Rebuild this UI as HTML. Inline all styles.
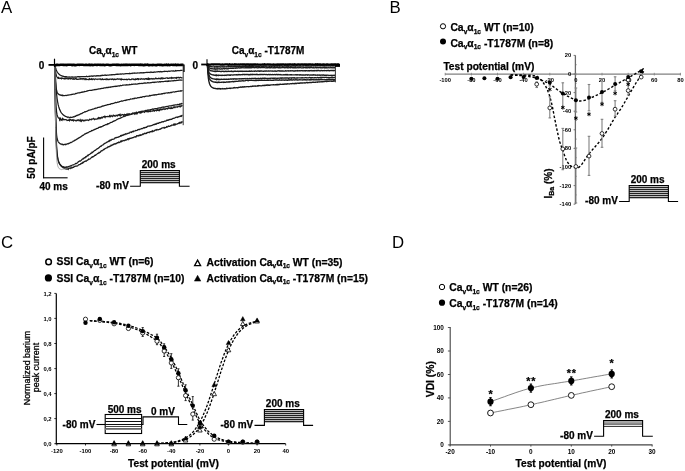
<!DOCTYPE html>
<html><head><meta charset="utf-8"><style>
html,body{margin:0;padding:0;background:#fff;}
svg{display:block;font-family:"Liberation Sans",sans-serif;will-change:transform;}
</style></head><body>
<svg width="685" height="471" viewBox="0 0 685 471">
<rect width="685" height="471" fill="#fff"/>
<text x="1.1" y="12.5" font-size="16.8"  text-anchor="start" >A</text>
<text x="89.0" y="53.9" font-size="10" font-weight="bold" stroke="#000" stroke-width="0.25" text-anchor="start" >Ca<tspan font-size="6.6" dy="2.6">v</tspan><tspan dy="-2.6">α</tspan><tspan font-size="6.6" dy="2.6">1c</tspan><tspan dy="-2.6"> </tspan>WT</text>
<text x="231.7" y="53.9" font-size="10" font-weight="bold" stroke="#000" stroke-width="0.25" text-anchor="start" >Ca<tspan font-size="6.6" dy="2.6">v</tspan><tspan dy="-2.6">α</tspan><tspan font-size="6.6" dy="2.6">1c</tspan><tspan dy="-2.6"> </tspan>-T1787M</text>
<text x="44.2" y="69.1" font-size="10" font-weight="bold" stroke="#000" stroke-width="0.25" text-anchor="end" >0</text>
<text x="198.0" y="68.9" font-size="10" font-weight="bold" stroke="#000" stroke-width="0.25" text-anchor="end" >0</text>
<path d="M54.9,64.9 L55.1,65.9 L55.4,67.0 L55.6,67.9 L55.9,68.8 L56.1,69.5 L56.4,70.2 L56.6,70.7 L56.9,71.3 L57.1,71.7 L57.4,72.2 L57.6,72.5 L57.9,72.9 L58.1,73.2 L58.4,73.5 L58.6,73.8 L58.9,74.0 L59.1,74.3 L59.4,74.5 L59.6,74.7 L59.9,74.9 L60.1,75.0 L60.4,75.2 L60.6,75.3 L60.9,75.5 L61.1,75.6 L61.4,75.7 L61.6,75.8 L61.9,75.9 L62.1,76.0 L62.4,76.1 L62.6,76.2 L62.9,76.3 L63.1,76.2 L63.4,76.4 L63.6,76.4 L63.9,76.6 L64.1,76.6 L64.3,76.5 L64.6,76.5 L64.8,76.8 L65.1,76.7 L65.3,76.7 L65.6,77.0 L65.8,76.8 L66.1,77.0 L66.3,76.9 L66.6,77.0 L66.8,76.8 L67.1,77.0 L67.6,77.1 L68.1,77.0 L68.6,77.1 L69.1,77.1 L69.6,76.9 L70.1,77.2 L70.6,77.1 L71.1,77.0 L71.6,76.9 L72.1,77.2 L72.6,77.0 L73.1,77.1 L73.6,77.2 L74.1,77.1 L74.6,77.1 L75.1,76.9 L75.6,77.1 L76.1,76.9 L76.6,77.1 L77.1,77.0 L77.6,76.7 L78.1,76.7 L78.6,76.7 L79.1,77.0 L79.6,76.7 L80.1,76.8 L80.6,76.6 L81.1,76.7 L81.6,76.6 L82.1,76.6 L82.6,76.6 L83.1,76.6 L83.6,76.7 L84.1,76.6 L84.6,76.7 L85.1,76.6 L85.6,76.6 L86.1,76.5 L86.6,76.2 L87.1,76.5 L87.6,76.5 L88.1,76.5 L88.6,76.3 L89.1,76.3 L89.6,76.1 L90.1,76.3 L90.6,76.2 L91.1,76.1 L91.6,75.9 L92.1,76.2 L92.6,76.3 L93.1,75.9 L93.6,76.1 L94.1,75.9 L94.6,75.8 L95.1,75.8 L95.6,76.0 L96.1,76.0 L96.6,75.6 L97.1,75.8 L97.6,75.6 L98.1,75.8 L98.6,75.6 L99.1,75.8 L99.6,75.8 L100.1,75.6 L100.6,75.8 L101.1,75.4 L101.6,75.3 L102.1,75.5 L102.6,75.2 L103.1,75.3 L103.6,75.3 L104.1,75.3 L104.6,75.1 L105.1,75.0 L105.6,75.3 L106.1,75.1 L106.6,75.3 L107.1,75.2 L107.6,75.0 L108.1,75.0 L108.6,75.0 L109.1,75.0 L109.6,74.9 L110.1,74.9 L110.6,74.9 L111.1,75.0 L111.6,74.7 L112.1,74.7 L112.6,74.8 L113.1,74.5 L113.6,74.5 L114.1,74.8 L114.6,74.5 L115.1,74.5 L115.6,74.3 L116.1,74.4 L116.6,74.4 L117.1,74.1 L117.6,74.4 L118.1,74.3 L118.6,74.1 L119.1,74.2 L119.6,74.1 L120.1,74.2 L120.6,74.0 L121.1,74.1 L121.6,74.1 L122.1,73.8 L122.6,73.8 L123.1,74.0 L123.6,74.1 L124.1,73.8 L124.6,73.8 L125.1,73.8 L125.6,73.7 L126.1,73.7 L126.6,73.6 L127.1,73.6 L127.6,73.7 L128.1,73.5 L128.6,73.5 L129.1,73.7 L129.6,73.3 L130.1,73.5 L130.6,73.5 L131.1,73.3 L131.6,73.3 L132.1,73.5 L132.6,73.2 L133.1,73.2 L133.6,73.2 L134.1,73.3 L134.6,73.0 L135.1,73.1 L135.6,73.1 L136.1,73.2 L136.6,73.1 L137.1,73.2 L137.6,72.9 L138.1,72.9 L138.6,73.0 L139.1,73.1 L139.6,72.9 L140.1,72.8 L140.6,72.7 L141.1,72.8 L141.6,72.7 L142.1,72.9 L142.6,72.9 L143.1,72.6 L143.6,72.6 L144.1,72.8 L144.6,72.7 L145.1,72.7 L145.6,72.5 L146.1,72.4 L146.6,72.4 L147.1,72.6 L147.6,72.3 L148.1,72.3 L148.6,72.3 L149.1,72.3 L149.6,72.3 L150.1,72.5 L150.6,72.1 L151.1,72.0 L151.6,72.4 L152.1,72.3 L152.6,72.3 L153.1,72.1 L153.6,72.3 L154.1,72.2 L154.6,71.9 L155.1,72.1 L155.6,72.1 L156.1,72.0 L156.6,71.9 L157.1,71.8 L157.6,71.8 L158.1,71.7 L158.6,71.6 L159.1,71.8 L159.6,71.7 L160.1,71.8 L160.6,71.5 L161.1,71.8 L161.6,71.7 L162.1,71.8 L162.6,71.7 L163.1,71.7 L163.6,71.5 L164.1,71.3 L164.6,71.6 L165.1,71.3 L165.6,71.3 L166.1,71.4 L166.6,71.4 L167.1,71.3 L167.6,71.5 L168.1,71.3 L168.6,71.2 L169.1,71.1 L169.6,71.3 L170.1,71.1 L170.6,71.2 L171.1,71.0 L171.6,70.9 L172.1,71.0 L172.6,71.1 L173.1,70.8 L173.6,71.1 L174.1,71.1 L174.6,71.0 L175.1,71.0 L175.6,70.6 L176.1,70.9 L176.6,70.9 L177.1,70.6 L177.6,70.6 L178.1,70.6 L178.6,70.7 L179.1,70.6 L179.6,70.6 L180.1,70.7 L180.6,70.3 L181.1,70.3 L181.6,70.3 L182.1,70.3 L182.6,70.3" stroke="#1c1c1c" stroke-width="1.25" fill="none" />
<path d="M54.9,64.9 L55.1,67.7 L55.4,70.3 L55.6,72.2 L55.9,73.7 L56.1,74.8 L56.4,75.6 L56.6,76.2 L56.9,76.7 L57.1,77.1 L57.4,77.4 L57.6,77.6 L57.9,77.7 L58.1,78.4 L58.4,78.3 L58.6,77.7 L58.9,78.1 L59.1,78.0 L59.4,78.1 L59.6,78.1 L59.9,78.5 L60.1,78.4 L60.4,78.2 L60.6,78.1 L60.9,78.2 L61.1,78.0 L61.4,78.5 L61.6,78.7 L61.9,78.3 L62.1,78.1 L62.6,78.2 L63.1,78.4 L63.6,78.6 L64.1,78.8 L64.6,78.4 L65.1,78.9 L65.6,78.7 L66.1,78.5 L66.6,78.5 L67.1,78.6 L67.6,78.8 L68.1,78.6 L68.6,78.9 L69.1,78.6 L69.6,78.4 L70.1,78.7 L70.6,78.9 L71.1,78.3 L71.6,78.7 L72.1,78.7 L72.6,79.2 L73.1,79.2 L73.6,78.7 L74.1,79.2 L74.6,79.1 L75.1,78.6 L75.6,78.8 L76.1,78.5 L76.6,79.2 L77.1,79.1 L77.6,79.3 L78.1,79.3 L78.6,79.1 L79.1,79.2 L79.6,79.1 L80.1,78.6 L80.6,79.1 L81.1,78.5 L81.6,78.7 L82.1,79.3 L82.6,78.6 L83.1,78.7 L83.6,78.7 L84.1,79.5 L84.6,78.8 L85.1,78.7 L85.6,79.5 L86.1,78.8 L86.6,79.5 L87.1,79.3 L87.6,79.5 L88.1,79.6 L88.6,79.3 L89.1,79.5 L89.6,78.7 L90.1,79.5 L90.6,79.2 L91.1,79.4 L91.6,78.8 L92.1,79.5 L92.6,79.6 L93.1,78.8 L93.6,79.0 L94.1,79.3 L94.6,79.6 L95.1,79.0 L95.6,78.9 L96.1,79.0 L96.6,79.3 L97.1,79.5 L97.6,79.1 L98.1,79.1 L98.6,79.1 L99.1,79.1 L99.6,79.2 L100.1,78.8 L100.6,79.2 L101.1,79.7 L101.6,79.2 L102.1,79.5 L102.6,78.9 L103.1,79.4 L103.6,79.5 L104.1,79.4 L104.6,79.3 L105.1,79.2 L105.6,79.4 L106.1,79.7 L106.6,78.9 L107.1,78.9 L107.6,79.5 L108.1,79.7 L108.6,79.3 L109.1,79.2 L109.6,79.5 L110.1,79.0 L110.6,79.0 L111.1,79.0 L111.6,79.4 L112.1,79.1 L112.6,79.0 L113.1,79.5 L113.6,79.7 L114.1,79.1 L114.6,79.5 L115.1,79.2 L115.6,79.6 L116.1,79.4 L116.6,79.1 L117.1,79.0 L117.6,78.8 L118.1,79.3 L118.6,79.2 L119.1,79.0 L119.6,79.2 L120.1,79.1 L120.6,79.6 L121.1,78.9 L121.6,79.8 L122.1,79.3 L122.6,79.4 L123.1,79.3 L123.6,79.6 L124.1,79.6 L124.6,79.4 L125.1,79.3 L125.6,79.5 L126.1,79.7 L126.6,79.2 L127.1,79.5 L127.6,79.8 L128.1,79.3 L128.6,79.0 L129.1,79.0 L129.6,79.5 L130.1,79.5 L130.6,79.7 L131.1,79.6 L131.6,79.0 L132.1,78.9 L132.6,79.0 L133.1,78.9 L133.6,79.4 L134.1,79.6 L134.6,79.6 L135.1,79.0 L135.6,79.6 L136.1,79.0 L136.6,79.1 L137.1,79.4 L137.6,78.7 L138.1,78.7 L138.6,79.5 L139.1,78.9 L139.6,79.0 L140.1,79.2 L140.6,79.3 L141.1,78.6 L141.6,78.9 L142.1,79.0 L142.6,79.0 L143.1,78.7 L143.6,79.1 L144.1,79.4 L144.6,78.9 L145.1,79.0 L145.6,78.6 L146.1,78.7 L146.6,79.1 L147.1,78.5 L147.6,79.3 L148.1,79.3 L148.6,78.4 L149.1,79.3 L149.6,78.7 L150.1,79.1 L150.6,79.0 L151.1,78.6 L151.6,78.9 L152.1,78.9 L152.6,79.0 L153.1,78.5 L153.6,78.9 L154.1,79.1 L154.6,78.8 L155.1,78.7 L155.6,78.2 L156.1,78.6 L156.6,78.4 L157.1,78.8 L157.6,78.7 L158.1,78.6 L158.6,78.2 L159.1,78.6 L159.6,78.6 L160.1,78.1 L160.6,78.8 L161.1,78.5 L161.6,78.0 L162.1,78.8 L162.6,78.0 L163.1,78.1 L163.6,78.5 L164.1,78.4 L164.6,78.3 L165.1,78.4 L165.6,78.2 L166.1,78.0 L166.6,77.9 L167.1,77.7 L167.6,78.4 L168.1,78.4 L168.6,78.1 L169.1,78.3 L169.6,77.9 L170.1,77.8 L170.6,77.9 L171.1,78.4 L171.6,77.5 L172.1,78.0 L172.6,77.7 L173.1,78.2 L173.6,77.8 L174.1,77.7 L174.6,77.8 L175.1,77.9 L175.6,78.1 L176.1,77.7 L176.6,78.2 L177.1,77.4 L177.6,77.5 L178.1,77.4 L178.6,77.4 L179.1,78.0 L179.6,77.9 L180.1,77.4 L180.6,77.4 L181.1,77.6 L181.6,77.9 L182.1,77.9 L182.6,77.9" stroke="#1c1c1c" stroke-width="1.25" fill="none" />
<path d="M54.9,64.9 L55.1,71.5 L55.4,77.6 L55.6,82.0 L55.9,85.2 L56.1,87.5 L56.4,89.2 L56.6,90.5 L56.9,91.4 L57.1,92.2 L57.4,92.7 L57.6,93.2 L57.9,93.5 L58.1,93.8 L58.4,94.1 L58.6,94.3 L58.9,94.4 L59.1,94.6 L59.4,94.7 L59.6,94.8 L59.9,94.9 L60.1,95.0 L60.4,94.9 L60.6,95.1 L60.9,95.1 L61.1,95.3 L61.4,95.3 L61.6,95.2 L61.9,95.3 L62.1,95.5 L62.4,95.2 L62.6,95.6 L62.9,95.6 L63.1,95.6 L63.4,95.4 L63.6,95.5 L63.9,95.5 L64.1,95.5 L64.6,95.6 L65.1,95.5 L65.6,95.3 L66.1,95.5 L66.6,95.3 L67.1,95.3 L67.6,95.2 L68.1,94.9 L68.6,95.1 L69.1,95.0 L69.6,94.8 L70.1,94.8 L70.6,94.7 L71.1,94.5 L71.6,94.5 L72.1,94.2 L72.6,94.3 L73.1,94.2 L73.6,94.0 L74.1,94.0 L74.6,94.0 L75.1,93.9 L75.6,93.5 L76.1,93.6 L76.6,93.5 L77.1,93.1 L77.6,93.1 L78.1,92.9 L78.6,92.8 L79.1,92.8 L79.6,92.9 L80.1,92.5 L80.6,92.6 L81.1,92.4 L81.6,92.1 L82.1,92.3 L82.6,92.0 L83.1,92.1 L83.6,91.9 L84.1,91.8 L84.6,91.5 L85.1,91.6 L85.6,91.5 L86.1,91.4 L86.6,91.1 L87.1,91.1 L87.6,90.9 L88.1,90.7 L88.6,90.6 L89.1,90.5 L89.6,90.4 L90.1,90.3 L90.6,90.4 L91.1,90.4 L91.6,90.3 L92.1,90.1 L92.6,90.1 L93.1,89.9 L93.6,89.9 L94.1,89.9 L94.6,89.7 L95.1,89.5 L95.6,89.7 L96.1,89.6 L96.6,89.3 L97.1,89.3 L97.6,89.2 L98.1,89.2 L98.6,88.9 L99.1,88.8 L99.6,88.8 L100.1,88.9 L100.6,88.6 L101.1,88.6 L101.6,88.4 L102.1,88.4 L102.6,88.3 L103.1,88.3 L103.6,88.1 L104.1,87.9 L104.6,87.9 L105.1,87.8 L105.6,87.9 L106.1,87.6 L106.6,87.5 L107.1,87.6 L107.6,87.5 L108.1,87.6 L108.6,87.2 L109.1,87.3 L109.6,87.2 L110.1,87.0 L110.6,87.3 L111.1,86.9 L111.6,86.8 L112.1,86.8 L112.6,86.6 L113.1,86.7 L113.6,86.6 L114.1,86.4 L114.6,86.3 L115.1,86.5 L115.6,86.2 L116.1,86.4 L116.6,86.2 L117.1,86.3 L117.6,86.0 L118.1,85.9 L118.6,85.8 L119.1,86.0 L119.6,85.8 L120.1,85.6 L120.6,85.5 L121.1,85.6 L121.6,85.7 L122.1,85.5 L122.6,85.2 L123.1,85.1 L123.6,85.1 L124.1,85.1 L124.6,85.0 L125.1,84.9 L125.6,85.1 L126.1,85.1 L126.6,84.8 L127.1,85.1 L127.6,84.8 L128.1,84.9 L128.6,84.9 L129.1,84.8 L129.6,84.4 L130.1,84.5 L130.6,84.5 L131.1,84.6 L131.6,84.2 L132.1,84.3 L132.6,84.4 L133.1,84.1 L133.6,84.1 L134.1,84.1 L134.6,84.2 L135.1,84.2 L135.6,83.9 L136.1,84.0 L136.6,84.0 L137.1,84.0 L137.6,83.8 L138.1,83.9 L138.6,83.6 L139.1,83.6 L139.6,83.5 L140.1,83.7 L140.6,83.5 L141.1,83.4 L141.6,83.3 L142.1,83.5 L142.6,83.4 L143.1,83.4 L143.6,83.2 L144.1,83.2 L144.6,83.0 L145.1,83.2 L145.6,82.9 L146.1,83.0 L146.6,83.1 L147.1,83.0 L147.6,82.7 L148.1,82.7 L148.6,82.9 L149.1,82.8 L149.6,82.9 L150.1,82.8 L150.6,82.6 L151.1,82.7 L151.6,82.6 L152.1,82.4 L152.6,82.4 L153.1,82.2 L153.6,82.3 L154.1,82.5 L154.6,82.1 L155.1,82.3 L155.6,82.0 L156.1,82.0 L156.6,82.2 L157.1,82.0 L157.6,81.8 L158.1,81.8 L158.6,82.0 L159.1,81.9 L159.6,81.7 L160.1,81.7 L160.6,82.0 L161.1,81.6 L161.6,81.7 L162.1,81.6 L162.6,81.7 L163.1,81.6 L163.6,81.7 L164.1,81.5 L164.6,81.3 L165.1,81.3 L165.6,81.2 L166.1,81.5 L166.6,81.1 L167.1,81.1 L167.6,81.4 L168.1,81.0 L168.6,81.3 L169.1,80.9 L169.6,81.0 L170.1,80.9 L170.6,81.1 L171.1,81.0 L171.6,80.9 L172.1,80.9 L172.6,80.9 L173.1,80.7 L173.6,80.8 L174.1,80.6 L174.6,80.5 L175.1,80.7 L175.6,80.6 L176.1,80.6 L176.6,80.3 L177.1,80.4 L177.6,80.4 L178.1,80.4 L178.6,80.1 L179.1,80.2 L179.6,80.2 L180.1,80.0 L180.6,80.1 L181.1,80.2 L181.6,80.0 L182.1,80.0 L182.6,80.0" stroke="#1c1c1c" stroke-width="1.25" fill="none" />
<path d="M54.9,64.9 L55.1,70.3 L55.4,76.1 L55.6,81.0 L55.9,85.1 L56.1,88.7 L56.4,91.7 L56.6,94.3 L56.9,96.6 L57.1,98.6 L57.4,100.3 L57.6,101.8 L57.9,103.2 L58.1,104.4 L58.4,105.4 L58.6,106.4 L58.9,107.3 L59.1,108.1 L59.4,108.8 L59.6,109.4 L59.9,110.0 L60.1,110.6 L60.4,111.1 L60.6,111.6 L60.9,112.0 L61.1,112.4 L61.4,112.8 L61.6,113.1 L61.9,113.4 L62.1,113.7 L62.4,114.0 L62.6,114.3 L62.9,114.5 L63.1,114.7 L63.4,115.0 L63.6,115.2 L63.9,115.3 L64.1,115.5 L64.3,115.7 L64.6,115.8 L64.8,116.0 L65.1,116.1 L65.3,116.2 L65.6,116.4 L65.8,116.5 L66.1,116.6 L66.3,116.7 L66.6,116.8 L66.8,116.9 L67.1,116.8 L67.3,116.9 L67.6,117.3 L67.8,117.1 L68.1,117.2 L68.3,117.1 L68.6,117.1 L68.8,117.1 L69.1,117.5 L69.3,117.4 L69.6,117.5 L69.8,117.5 L70.1,117.4 L70.3,117.5 L70.6,117.3 L70.8,117.2 L71.1,117.4 L71.6,117.3 L72.1,117.3 L72.6,117.0 L73.1,117.0 L73.6,116.7 L74.1,116.8 L74.6,116.6 L75.1,116.2 L75.6,116.3 L76.1,115.8 L76.6,115.5 L77.1,115.6 L77.6,115.2 L78.1,115.1 L78.6,114.9 L79.1,114.5 L79.6,114.5 L80.1,114.1 L80.6,113.9 L81.1,113.7 L81.6,113.6 L82.1,113.4 L82.6,112.9 L83.1,112.6 L83.6,112.5 L84.1,112.3 L84.6,111.9 L85.1,111.7 L85.6,111.8 L86.1,111.5 L86.6,111.4 L87.1,111.2 L87.6,111.0 L88.1,110.6 L88.6,110.3 L89.1,110.2 L89.6,110.1 L90.1,110.0 L90.6,109.8 L91.1,109.6 L91.6,109.7 L92.1,109.3 L92.6,109.2 L93.1,109.2 L93.6,109.0 L94.1,108.7 L94.6,108.5 L95.1,108.6 L95.6,108.1 L96.1,108.0 L96.6,108.0 L97.1,107.9 L97.6,107.6 L98.1,107.4 L98.6,107.3 L99.1,107.4 L99.6,107.1 L100.1,107.2 L100.6,106.9 L101.1,106.9 L101.6,106.3 L102.1,106.3 L102.6,106.0 L103.1,106.1 L103.6,105.9 L104.1,105.6 L104.6,105.7 L105.1,105.4 L105.6,105.3 L106.1,105.1 L106.6,105.2 L107.1,104.9 L107.6,104.7 L108.1,104.5 L108.6,104.5 L109.1,104.4 L109.6,104.3 L110.1,104.3 L110.6,104.1 L111.1,103.7 L111.6,103.6 L112.1,103.7 L112.6,103.6 L113.1,103.3 L113.6,103.3 L114.1,103.1 L114.6,102.8 L115.1,102.7 L115.6,102.5 L116.1,102.6 L116.6,102.6 L117.1,102.4 L117.6,102.1 L118.1,102.1 L118.6,102.1 L119.1,101.9 L119.6,101.7 L120.1,101.5 L120.6,101.4 L121.1,101.2 L121.6,101.0 L122.1,101.1 L122.6,101.1 L123.1,100.8 L123.6,100.7 L124.1,100.5 L124.6,100.4 L125.1,100.5 L125.6,100.2 L126.1,100.3 L126.6,99.9 L127.1,99.8 L127.6,99.8 L128.1,99.7 L128.6,99.7 L129.1,99.6 L129.6,99.6 L130.1,99.3 L130.6,99.0 L131.1,99.1 L131.6,99.0 L132.1,98.9 L132.6,98.7 L133.1,98.8 L133.6,98.7 L134.1,98.3 L134.6,98.5 L135.1,98.2 L135.6,98.2 L136.1,98.3 L136.6,98.2 L137.1,98.0 L137.6,97.7 L138.1,97.9 L138.6,97.5 L139.1,97.5 L139.6,97.6 L140.1,97.3 L140.6,97.2 L141.1,97.4 L141.6,97.3 L142.1,96.9 L142.6,96.9 L143.1,96.7 L143.6,96.6 L144.1,96.6 L144.6,96.8 L145.1,96.3 L145.6,96.3 L146.1,96.2 L146.6,96.1 L147.1,96.2 L147.6,96.2 L148.1,96.1 L148.6,96.0 L149.1,96.0 L149.6,95.5 L150.1,95.6 L150.6,95.8 L151.1,95.3 L151.6,95.3 L152.1,95.3 L152.6,95.2 L153.1,95.2 L153.6,94.9 L154.1,94.9 L154.6,95.1 L155.1,94.7 L155.6,94.9 L156.1,94.6 L156.6,94.8 L157.1,94.6 L157.6,94.5 L158.1,94.3 L158.6,94.1 L159.1,94.3 L159.6,94.0 L160.1,94.0 L160.6,94.1 L161.1,94.1 L161.6,93.7 L162.1,94.0 L162.6,93.7 L163.1,93.6 L163.6,93.4 L164.1,93.4 L164.6,93.6 L165.1,93.2 L165.6,93.1 L166.1,93.0 L166.6,92.9 L167.1,93.0 L167.6,93.1 L168.1,92.7 L168.6,92.7 L169.1,92.9 L169.6,92.8 L170.1,92.7 L170.6,92.4 L171.1,92.3 L171.6,92.5 L172.1,92.2 L172.6,92.2 L173.1,92.0 L173.6,91.8 L174.1,91.9 L174.6,92.0 L175.1,91.9 L175.6,91.7 L176.1,91.6 L176.6,91.6 L177.1,91.4 L177.6,91.4 L178.1,91.4 L178.6,91.1 L179.1,91.2 L179.6,91.2 L180.1,91.1 L180.6,90.8 L181.1,91.0 L181.6,90.9 L182.1,90.5 L182.6,90.5" stroke="#1c1c1c" stroke-width="1.25" fill="none" />
<path d="M54.9,64.9 L55.1,77.2 L55.4,88.6 L55.6,96.7 L55.9,102.5 L56.1,106.7 L56.4,109.8 L56.6,112.0 L56.9,113.6 L57.1,114.9 L57.4,115.8 L57.6,116.5 L57.9,117.0 L58.1,117.5 L58.4,117.8 L58.6,118.1 L58.9,118.3 L59.1,118.1 L59.4,118.0 L59.6,119.4 L59.9,118.7 L60.1,119.5 L60.4,118.5 L60.6,118.4 L60.9,119.7 L61.1,119.7 L61.4,120.0 L61.6,119.6 L61.9,119.4 L62.1,119.8 L62.4,118.9 L62.6,119.5 L62.9,119.4 L63.1,119.0 L63.6,119.7 L64.1,119.4 L64.6,119.7 L65.1,119.5 L65.6,119.5 L66.1,119.6 L66.6,119.9 L67.1,120.5 L67.6,120.4 L68.1,120.4 L68.6,120.4 L69.1,119.6 L69.6,120.6 L70.1,119.7 L70.6,119.5 L71.1,120.0 L71.6,120.4 L72.1,119.9 L72.6,120.3 L73.1,119.8 L73.6,120.8 L74.1,120.1 L74.6,120.2 L75.1,120.3 L75.6,120.8 L76.1,121.0 L76.6,120.3 L77.1,120.2 L77.6,120.5 L78.1,119.7 L78.6,120.2 L79.1,120.9 L79.6,120.8 L80.1,119.8 L80.6,120.9 L81.1,120.2 L81.6,121.1 L82.1,120.2 L82.6,120.0 L83.1,120.5 L83.6,120.9 L84.1,120.3 L84.6,120.8 L85.1,120.6 L85.6,120.1 L86.1,119.9 L86.6,120.2 L87.1,120.0 L87.6,119.9 L88.1,120.2 L88.6,120.5 L89.1,120.0 L89.6,119.3 L90.1,119.4 L90.6,119.5 L91.1,119.8 L91.6,119.0 L92.1,118.9 L92.6,119.1 L93.1,119.0 L93.6,118.5 L94.1,119.1 L94.6,119.6 L95.1,119.0 L95.6,119.1 L96.1,119.2 L96.6,119.1 L97.1,119.1 L97.6,118.3 L98.1,118.6 L98.6,117.7 L99.1,118.6 L99.6,117.8 L100.1,117.9 L100.6,118.4 L101.1,117.4 L101.6,117.2 L102.1,118.0 L102.6,117.6 L103.1,116.7 L103.6,116.6 L104.1,116.9 L104.6,116.4 L105.1,117.4 L105.6,116.4 L106.1,116.5 L106.6,116.5 L107.1,116.6 L107.6,116.4 L108.1,116.6 L108.6,116.6 L109.1,116.2 L109.6,115.7 L110.1,116.9 L110.6,116.4 L111.1,115.5 L111.6,115.9 L112.1,116.3 L112.6,116.6 L113.1,115.2 L113.6,115.1 L114.1,115.7 L114.6,115.6 L115.1,116.2 L115.6,116.0 L116.1,115.3 L116.6,115.4 L117.1,115.6 L117.6,115.9 L118.1,114.9 L118.6,115.1 L119.1,114.7 L119.6,115.4 L120.1,114.5 L120.6,115.7 L121.1,115.1 L121.6,115.1 L122.1,114.4 L122.6,114.5 L123.1,114.8 L123.6,115.3 L124.1,114.8 L124.6,114.4 L125.1,115.3 L125.6,114.8 L126.1,114.6 L126.6,114.1 L127.1,114.1 L127.6,114.9 L128.1,113.8 L128.6,114.3 L129.1,114.3 L129.6,113.9 L130.1,114.4 L130.6,114.5 L131.1,114.4 L131.6,114.2 L132.1,113.4 L132.6,113.1 L133.1,113.5 L133.6,113.3 L134.1,113.1 L134.6,114.0 L135.1,113.0 L135.6,113.8 L136.1,113.8 L136.6,112.6 L137.1,113.7 L137.6,112.9 L138.1,112.6 L138.6,112.4 L139.1,112.2 L139.6,112.7 L140.1,112.5 L140.6,113.1 L141.1,113.0 L141.6,111.8 L142.1,112.2 L142.6,112.2 L143.1,111.8 L143.6,111.8 L144.1,111.8 L144.6,112.3 L145.1,111.7 L145.6,111.3 L146.1,111.4 L146.6,111.6 L147.1,111.7 L147.6,111.2 L148.1,111.8 L148.6,111.0 L149.1,111.6 L149.6,111.4 L150.1,110.7 L150.6,111.5 L151.1,110.9 L151.6,111.0 L152.1,111.0 L152.6,111.0 L153.1,110.6 L153.6,110.0 L154.1,111.0 L154.6,111.0 L155.1,110.4 L155.6,110.4 L156.1,109.9 L156.6,110.7 L157.1,110.3 L157.6,109.6 L158.1,110.4 L158.6,110.5 L159.1,109.5 L159.6,110.4 L160.1,109.6 L160.6,109.1 L161.1,109.7 L161.6,109.1 L162.1,109.6 L162.6,109.3 L163.1,108.6 L163.6,109.1 L164.1,109.5 L164.6,108.9 L165.1,108.9 L165.6,109.2 L166.1,108.6 L166.6,108.6 L167.1,108.6 L167.6,108.9 L168.1,107.9 L168.6,107.7 L169.1,108.5 L169.6,108.2 L170.1,107.7 L170.6,108.5 L171.1,108.4 L171.6,107.8 L172.1,108.4 L172.6,108.1 L173.1,107.9 L173.6,107.2 L174.1,106.7 L174.6,107.5 L175.1,107.5 L175.6,106.9 L176.1,107.0 L176.6,107.1 L177.1,106.6 L177.6,107.1 L178.1,106.8 L178.6,106.5 L179.1,106.0 L179.6,106.6 L180.1,106.2 L180.6,106.7 L181.1,105.8 L181.6,106.1 L182.1,105.7 L182.6,105.9" stroke="#1c1c1c" stroke-width="1.25" fill="none" />
<path d="M54.9,64.9 L55.1,85.2 L55.4,102.9 L55.6,114.8 L55.9,123.0 L56.1,128.5 L56.4,132.4 L56.6,135.1 L56.9,137.0 L57.1,138.5 L57.4,139.5 L57.6,140.4 L57.9,141.0 L58.1,141.5 L58.4,142.0 L58.6,142.3 L58.9,142.6 L59.1,142.9 L59.4,143.1 L59.6,143.3 L59.9,143.5 L60.1,143.7 L60.4,143.8 L60.6,144.0 L60.9,144.1 L61.1,144.2 L61.4,144.1 L61.6,144.1 L61.9,144.4 L62.1,144.3 L62.4,144.5 L62.6,144.4 L62.9,144.4 L63.1,144.6 L63.4,144.8 L63.6,144.8 L63.9,144.6 L64.1,144.5 L64.3,144.4 L64.6,144.4 L64.8,144.4 L65.1,144.7 L65.6,144.2 L66.1,144.5 L66.6,144.1 L67.1,144.0 L67.6,143.7 L68.1,143.9 L68.6,143.3 L69.1,143.3 L69.6,143.1 L70.1,142.7 L70.6,142.5 L71.1,142.6 L71.6,142.3 L72.1,142.0 L72.6,141.8 L73.1,141.1 L73.6,141.2 L74.1,140.9 L74.6,140.4 L75.1,140.2 L75.6,140.1 L76.1,139.5 L76.6,139.4 L77.1,138.8 L77.6,138.8 L78.1,138.3 L78.6,138.1 L79.1,137.7 L79.6,137.6 L80.1,137.2 L80.6,136.8 L81.1,136.6 L81.6,136.1 L82.1,136.0 L82.6,135.4 L83.1,135.3 L83.6,135.0 L84.1,134.6 L84.6,134.1 L85.1,133.9 L85.6,133.8 L86.1,133.3 L86.6,133.3 L87.1,132.9 L87.6,132.9 L88.1,132.6 L88.6,132.3 L89.1,131.9 L89.6,131.5 L90.1,131.5 L90.6,131.4 L91.1,131.2 L91.6,130.6 L92.1,130.4 L92.6,130.6 L93.1,130.3 L93.6,129.9 L94.1,129.8 L94.6,129.3 L95.1,129.3 L95.6,129.1 L96.1,128.9 L96.6,128.5 L97.1,128.3 L97.6,128.3 L98.1,128.2 L98.6,127.6 L99.1,127.3 L99.6,127.2 L100.1,127.3 L100.6,126.9 L101.1,126.7 L101.6,126.8 L102.1,126.4 L102.6,126.0 L103.1,126.0 L103.6,125.5 L104.1,125.4 L104.6,125.4 L105.1,124.9 L105.6,124.6 L106.1,124.7 L106.6,124.4 L107.1,124.5 L107.6,123.8 L108.1,124.0 L108.6,123.5 L109.1,123.5 L109.6,123.1 L110.1,123.0 L110.6,122.6 L111.1,122.4 L111.6,122.3 L112.1,122.2 L112.6,121.7 L113.1,121.4 L113.6,121.3 L114.1,120.9 L114.6,120.8 L115.1,120.6 L115.6,120.4 L116.1,120.1 L116.6,119.7 L117.1,119.4 L117.6,119.1 L118.1,119.0 L118.6,118.7 L119.1,118.7 L119.6,118.3 L120.1,118.3 L120.6,118.0 L121.1,117.7 L121.6,117.6 L122.1,117.2 L122.6,117.0 L123.1,116.7 L123.6,116.3 L124.1,116.5 L124.6,116.2 L125.1,115.8 L125.6,116.0 L126.1,115.6 L126.6,115.5 L127.1,115.2 L127.6,114.9 L128.1,115.2 L128.6,114.7 L129.1,114.6 L129.6,114.8 L130.1,114.2 L130.6,114.3 L131.1,114.1 L131.6,113.9 L132.1,114.1 L132.6,113.7 L133.1,113.4 L133.6,113.5 L134.1,113.1 L134.6,113.3 L135.1,113.3 L135.6,113.2 L136.1,112.6 L136.6,112.8 L137.1,112.5 L137.6,112.5 L138.1,112.3 L138.6,112.1 L139.1,111.9 L139.6,112.1 L140.1,111.7 L140.6,112.0 L141.1,111.4 L141.6,111.8 L142.1,111.3 L142.6,111.1 L143.1,111.3 L143.6,111.1 L144.1,111.1 L144.6,110.9 L145.1,110.8 L145.6,110.5 L146.1,110.7 L146.6,110.5 L147.1,110.6 L147.6,110.0 L148.1,109.9 L148.6,110.1 L149.1,110.2 L149.6,109.8 L150.1,109.9 L150.6,109.7 L151.1,109.5 L151.6,109.4 L152.1,109.4 L152.6,109.0 L153.1,109.1 L153.6,109.2 L154.1,108.8 L154.6,108.8 L155.1,108.6 L155.6,108.6 L156.1,108.6 L156.6,108.6 L157.1,108.6 L157.6,108.3 L158.1,108.0 L158.6,108.0 L159.1,107.8 L159.6,107.8 L160.1,107.9 L160.6,107.8 L161.1,107.5 L161.6,107.4 L162.1,107.2 L162.6,107.2 L163.1,107.3 L163.6,107.0 L164.1,107.3 L164.6,107.0 L165.1,106.8 L165.6,106.8 L166.1,106.5 L166.6,106.7 L167.1,106.6 L167.6,106.3 L168.1,106.4 L168.6,106.1 L169.1,106.0 L169.6,105.9 L170.1,105.8 L170.6,105.9 L171.1,105.8 L171.6,105.8 L172.1,105.4 L172.6,105.6 L173.1,105.4 L173.6,105.2 L174.1,105.2 L174.6,105.1 L175.1,104.8 L175.6,104.8 L176.1,104.9 L176.6,104.8 L177.1,104.8 L177.6,104.4 L178.1,104.6 L178.6,104.5 L179.1,104.3 L179.6,104.3 L180.1,103.8 L180.6,104.0 L181.1,104.0 L181.6,103.5 L182.1,103.6 L182.6,103.7" stroke="#1c1c1c" stroke-width="1.25" fill="none" />
<path d="M54.9,64.9 L55.1,86.8 L55.4,107.0 L55.6,121.4 L55.9,131.9 L56.1,139.5 L56.4,145.0 L56.6,149.2 L56.9,152.3 L57.1,154.7 L57.4,156.6 L57.6,158.1 L57.9,159.3 L58.1,160.2 L58.4,161.1 L58.6,161.8 L58.9,162.4 L59.1,162.9 L59.4,163.4 L59.6,163.8 L59.9,164.2 L60.1,164.5 L60.4,164.8 L60.6,165.1 L60.9,165.3 L61.1,165.6 L61.4,165.8 L61.6,166.0 L61.9,166.2 L62.1,166.3 L62.4,166.5 L62.6,166.6 L62.9,166.7 L63.1,166.9 L63.4,167.0 L63.6,166.9 L63.9,167.4 L64.1,167.5 L64.3,167.2 L64.6,167.1 L64.8,167.1 L65.1,167.6 L65.3,167.3 L65.6,167.2 L65.8,167.3 L66.1,167.6 L66.3,167.1 L66.6,166.9 L66.8,167.5 L67.1,167.1 L67.3,167.0 L67.6,167.4 L68.1,166.8 L68.6,166.5 L69.1,166.9 L69.6,166.2 L70.1,166.0 L70.6,166.3 L71.1,165.6 L71.6,165.9 L72.1,165.3 L72.6,165.0 L73.1,164.8 L73.6,164.8 L74.1,164.5 L74.6,164.2 L75.1,164.0 L75.6,163.5 L76.1,163.6 L76.6,163.4 L77.1,163.0 L77.6,162.7 L78.1,161.9 L78.6,161.7 L79.1,161.3 L79.6,161.0 L80.1,161.2 L80.6,160.8 L81.1,160.5 L81.6,159.9 L82.1,159.2 L82.6,159.1 L83.1,158.5 L83.6,158.7 L84.1,157.9 L84.6,157.6 L85.1,157.7 L85.6,156.8 L86.1,157.0 L86.6,156.2 L87.1,156.1 L87.6,155.3 L88.1,155.6 L88.6,154.9 L89.1,154.5 L89.6,154.4 L90.1,154.0 L90.6,153.4 L91.1,153.0 L91.6,153.0 L92.1,152.2 L92.6,152.5 L93.1,151.8 L93.6,151.3 L94.1,151.0 L94.6,150.5 L95.1,150.3 L95.6,150.1 L96.1,149.6 L96.6,149.2 L97.1,148.8 L97.6,148.6 L98.1,148.4 L98.6,147.8 L99.1,147.7 L99.6,147.1 L100.1,146.5 L100.6,146.2 L101.1,146.3 L101.6,145.7 L102.1,145.3 L102.6,145.0 L103.1,144.9 L103.6,144.2 L104.1,143.9 L104.6,143.6 L105.1,143.0 L105.6,143.0 L106.1,142.7 L106.6,142.4 L107.1,142.1 L107.6,141.8 L108.1,141.7 L108.6,141.0 L109.1,141.3 L109.6,140.4 L110.1,140.7 L110.6,140.0 L111.1,140.2 L111.6,139.6 L112.1,139.2 L112.6,139.3 L113.1,139.3 L113.6,139.0 L114.1,138.9 L114.6,138.7 L115.1,137.8 L115.6,137.9 L116.1,137.5 L116.6,137.7 L117.1,137.3 L117.6,137.3 L118.1,137.1 L118.6,137.1 L119.1,136.7 L119.6,136.6 L120.1,136.2 L120.6,135.7 L121.1,136.1 L121.6,135.3 L122.1,135.1 L122.6,135.5 L123.1,134.9 L123.6,135.0 L124.1,134.4 L124.6,134.3 L125.1,134.5 L125.6,133.8 L126.1,134.0 L126.6,134.1 L127.1,133.4 L127.6,133.6 L128.1,133.4 L128.6,133.2 L129.1,133.1 L129.6,132.9 L130.1,132.2 L130.6,132.2 L131.1,132.2 L131.6,132.4 L132.1,131.7 L132.6,131.7 L133.1,131.2 L133.6,131.6 L134.1,131.1 L134.6,131.0 L135.1,130.9 L135.6,130.4 L136.1,130.6 L136.6,130.5 L137.1,130.4 L137.6,129.8 L138.1,129.6 L138.6,129.4 L139.1,129.7 L139.6,129.2 L140.1,129.0 L140.6,129.0 L141.1,128.9 L141.6,128.5 L142.1,128.3 L142.6,128.5 L143.1,128.3 L143.6,127.8 L144.1,127.5 L144.6,127.9 L145.1,127.6 L145.6,127.4 L146.1,127.1 L146.6,127.3 L147.1,126.8 L147.6,126.4 L148.1,126.2 L148.6,126.2 L149.1,126.2 L149.6,125.9 L150.1,126.1 L150.6,125.8 L151.1,125.5 L151.6,125.5 L152.1,125.3 L152.6,125.1 L153.1,124.9 L153.6,124.7 L154.1,124.5 L154.6,124.6 L155.1,124.0 L155.6,124.3 L156.1,123.8 L156.6,124.0 L157.1,123.3 L157.6,123.4 L158.1,123.2 L158.6,123.3 L159.1,122.8 L159.6,122.6 L160.1,122.4 L160.6,122.5 L161.1,122.4 L161.6,121.8 L162.1,121.8 L162.6,121.7 L163.1,122.0 L163.6,121.5 L164.1,121.4 L164.6,121.1 L165.1,121.2 L165.6,121.1 L166.1,120.9 L166.6,120.3 L167.1,120.4 L167.6,120.3 L168.1,119.8 L168.6,120.2 L169.1,119.7 L169.6,119.5 L170.1,119.6 L170.6,119.4 L171.1,119.2 L171.6,119.3 L172.1,118.9 L172.6,118.6 L173.1,118.3 L173.6,118.4 L174.1,118.2 L174.6,118.1 L175.1,117.8 L175.6,117.4 L176.1,117.3 L176.6,117.2 L177.1,117.0 L177.6,117.4 L178.1,117.0 L178.6,116.6 L179.1,116.8 L179.6,116.6 L180.1,116.0 L180.6,116.4 L181.1,115.8 L181.6,116.2 L182.1,115.4 L182.6,115.4" stroke="#1c1c1c" stroke-width="1.25" fill="none" />
<path d="M54.9,64.9 L55.1,84.6 L55.4,103.5 L55.6,117.5 L55.9,128.1 L56.1,136.0 L56.4,142.1 L56.6,146.7 L56.9,150.3 L57.1,153.1 L57.4,155.3 L57.6,157.1 L57.9,158.5 L58.1,159.7 L58.4,160.7 L58.6,161.5 L58.9,162.2 L59.1,162.9 L59.4,163.4 L59.6,163.9 L59.9,164.3 L60.1,164.7 L60.4,165.1 L60.6,165.4 L60.9,165.7 L61.1,166.0 L61.4,166.3 L61.6,166.5 L61.9,166.7 L62.1,166.9 L62.4,167.1 L62.6,167.3 L62.9,167.4 L63.1,167.6 L63.4,167.7 L63.6,167.9 L63.9,168.0 L64.1,168.1 L64.3,168.2 L64.6,168.3 L64.8,168.4 L65.1,168.2 L65.3,168.9 L65.6,168.9 L65.8,168.7 L66.1,168.4 L66.3,168.6 L66.6,168.9 L66.8,168.3 L67.1,169.1 L67.3,169.0 L67.6,169.1 L67.8,168.9 L68.1,168.8 L68.3,169.1 L68.6,168.4 L68.8,168.4 L69.1,168.2 L69.6,168.1 L70.1,168.5 L70.6,167.7 L71.1,168.2 L71.6,167.7 L72.1,167.9 L72.6,167.6 L73.1,167.4 L73.6,167.4 L74.1,166.5 L74.6,166.5 L75.1,166.4 L75.6,166.2 L76.1,166.2 L76.6,166.2 L77.1,165.9 L77.6,165.8 L78.1,165.4 L78.6,164.8 L79.1,164.7 L79.6,164.7 L80.1,164.5 L80.6,163.8 L81.1,163.5 L81.6,163.5 L82.1,162.8 L82.6,163.1 L83.1,162.1 L83.6,162.4 L84.1,161.9 L84.6,161.4 L85.1,161.4 L85.6,161.0 L86.1,161.2 L86.6,160.8 L87.1,160.3 L87.6,160.2 L88.1,159.9 L88.6,159.0 L89.1,159.3 L89.6,159.0 L90.1,158.9 L90.6,158.4 L91.1,157.8 L91.6,157.3 L92.1,157.4 L92.6,156.7 L93.1,156.8 L93.6,156.4 L94.1,156.3 L94.6,155.5 L95.1,155.1 L95.6,155.3 L96.1,154.8 L96.6,154.2 L97.1,154.0 L97.6,153.6 L98.1,153.4 L98.6,153.0 L99.1,152.4 L99.6,152.7 L100.1,152.3 L100.6,151.8 L101.1,151.0 L101.6,150.6 L102.1,150.8 L102.6,150.5 L103.1,150.1 L103.6,149.4 L104.1,149.5 L104.6,149.0 L105.1,148.6 L105.6,148.5 L106.1,148.0 L106.6,147.9 L107.1,147.7 L107.6,147.7 L108.1,146.6 L108.6,146.8 L109.1,146.8 L109.6,146.3 L110.1,146.0 L110.6,146.0 L111.1,145.1 L111.6,145.5 L112.1,145.2 L112.6,144.9 L113.1,144.4 L113.6,144.5 L114.1,143.9 L114.6,144.0 L115.1,143.6 L115.6,144.0 L116.1,143.7 L116.6,143.2 L117.1,143.2 L117.6,142.7 L118.1,142.6 L118.6,142.1 L119.1,142.6 L119.6,142.3 L120.1,142.1 L120.6,141.3 L121.1,141.8 L121.6,140.9 L122.1,141.2 L122.6,141.0 L123.1,140.4 L123.6,140.6 L124.1,140.8 L124.6,140.4 L125.1,140.0 L125.6,140.3 L126.1,139.7 L126.6,140.0 L127.1,139.4 L127.6,138.9 L128.1,139.6 L128.6,138.6 L129.1,138.6 L129.6,138.9 L130.1,138.1 L130.6,138.3 L131.1,138.4 L131.6,138.0 L132.1,137.7 L132.6,137.9 L133.1,137.7 L133.6,137.4 L134.1,137.2 L134.6,136.8 L135.1,136.7 L135.6,137.1 L136.1,136.9 L136.6,135.8 L137.1,135.9 L137.6,135.7 L138.1,136.1 L138.6,135.4 L139.1,135.2 L139.6,135.6 L140.1,134.9 L140.6,135.4 L141.1,134.8 L141.6,135.0 L142.1,134.8 L142.6,134.1 L143.1,134.4 L143.6,134.0 L144.1,133.6 L144.6,133.3 L145.1,133.7 L145.6,133.5 L146.1,133.1 L146.6,133.4 L147.1,132.7 L147.6,132.7 L148.1,132.2 L148.6,132.3 L149.1,132.6 L149.6,132.1 L150.1,131.7 L150.6,131.6 L151.1,131.8 L151.6,131.3 L152.1,131.7 L152.6,130.8 L153.1,131.4 L153.6,131.0 L154.1,131.0 L154.6,130.5 L155.1,130.1 L155.6,130.0 L156.1,130.3 L156.6,129.6 L157.1,129.5 L157.6,129.9 L158.1,129.9 L158.6,129.7 L159.1,129.5 L159.6,129.1 L160.1,129.3 L160.6,128.9 L161.1,128.7 L161.6,128.4 L162.1,127.9 L162.6,127.8 L163.1,127.8 L163.6,127.8 L164.1,127.4 L164.6,128.0 L165.1,127.5 L165.6,127.5 L166.1,127.4 L166.6,126.7 L167.1,127.1 L167.6,127.0 L168.1,126.3 L168.6,126.0 L169.1,126.4 L169.6,126.4 L170.1,126.1 L170.6,125.6 L171.1,125.7 L171.6,125.1 L172.1,125.0 L172.6,125.0 L173.1,125.2 L173.6,124.4 L174.1,125.0 L174.6,124.1 L175.1,124.8 L175.6,124.0 L176.1,124.3 L176.6,124.2 L177.1,124.1 L177.6,123.6 L178.1,123.6 L178.6,123.1 L179.1,123.4 L179.6,122.6 L180.1,123.1 L180.6,122.7 L181.1,122.1 L181.6,122.7 L182.1,122.0 L182.6,121.6" stroke="#1c1c1c" stroke-width="1.25" fill="none" />
<path d="M54.9,64.9 L55.1,89.4 L55.4,111.9 L55.6,127.8 L55.9,139.1 L56.1,147.2 L56.4,153.0 L56.6,157.2 L56.9,160.2 L57.1,162.4 L57.4,164.1 L57.6,165.3 L57.9,166.2 L58.1,166.9 L58.4,167.4 L58.6,167.9 L58.9,168.2 L59.1,168.5 L59.4,168.7 L59.6,168.9 L59.9,169.0 L60.1,169.1 L60.4,169.1 L60.6,169.3 L60.9,169.5 L61.1,169.6 L61.4,169.5 L61.6,169.6 L61.9,169.6 L62.1,169.5 L62.4,169.4 L62.6,169.3 L62.9,169.2 L63.1,169.3 L63.4,169.1 L63.6,169.3 L63.9,169.0 L64.1,169.1 L64.6,168.9 L65.1,168.8 L65.6,168.4 L66.1,168.3 L66.6,168.3 L67.1,168.0 L67.6,168.0 L68.1,167.9 L68.6,167.5 L69.1,167.6 L69.6,167.2 L70.1,167.2 L70.6,166.8 L71.1,166.7 L71.6,166.4 L72.1,166.0 L72.6,165.9 L73.1,165.7 L73.6,165.4 L74.1,165.3 L74.6,165.1 L75.1,164.8" stroke="#999" stroke-width="0.9" fill="none" />
<path d="M55.0,65.0 L55.9,65.1 L56.8,64.9 L57.7,64.8 L58.6,65.0 L59.5,65.0 L60.4,64.7 L61.3,64.8 L62.2,64.8 L63.1,64.9 L64.0,64.8 L64.9,65.0 L65.8,64.8 L66.7,65.1 L67.6,64.8 L68.5,64.8 L69.4,64.7 L70.3,64.7 L71.2,64.8 L72.1,65.1 L73.0,64.9 L73.9,64.9 L74.8,65.1 L75.7,65.1 L76.6,65.0 L77.5,64.8 L78.4,64.8 L79.3,64.9 L80.2,64.8 L81.1,64.8 L82.0,64.8 L82.9,64.8 L83.8,65.0 L84.7,65.0 L85.6,64.9 L86.5,64.9 L87.4,65.0 L88.3,65.0 L89.2,64.7 L90.1,65.1 L91.0,64.9 L91.9,64.8 L92.8,65.1 L93.7,65.0 L94.6,64.8 L95.5,64.7 L96.4,64.9 L97.3,64.9 L98.2,64.8 L99.1,64.7 L100.0,64.9 L100.9,64.8 L101.8,65.0 L102.7,64.9 L103.6,64.8 L104.5,65.1 L105.4,64.9 L106.3,64.7 L107.2,64.8 L108.1,64.7 L109.0,64.9 L109.9,65.1 L110.8,65.1 L111.7,65.0 L112.6,64.7 L113.5,64.8 L114.4,64.8 L115.3,64.8 L116.2,65.0 L117.1,64.7 L118.0,64.9 L118.9,64.9 L119.8,65.0 L120.7,65.1 L121.6,64.8 L122.5,65.0 L123.4,64.8 L124.3,64.9 L125.2,65.0 L126.1,64.7 L127.0,64.9 L127.9,64.9 L128.8,64.7 L129.7,64.8 L130.6,65.1 L131.5,64.8 L132.4,64.7 L133.3,64.8 L134.2,64.9 L135.1,64.8 L136.0,64.8 L136.9,64.8 L137.8,64.8 L138.7,64.9 L139.6,64.9 L140.5,64.7 L141.4,64.9 L142.3,64.8 L143.2,65.1 L144.1,65.1 L145.0,64.7 L145.9,65.0 L146.8,64.8 L147.7,64.7 L148.6,65.1 L149.5,65.1 L150.4,65.0 L151.3,65.0 L152.2,65.1 L153.1,64.9 L154.0,65.0 L154.9,65.0 L155.8,65.1 L156.7,65.1 L157.6,64.8 L158.5,64.8 L159.4,64.9 L160.3,64.9 L161.2,64.8 L162.1,65.1 L163.0,65.1 L163.9,65.0 L164.8,64.9 L165.7,65.0 L166.6,64.7 L167.5,65.1 L168.4,64.7 L169.3,65.1 L170.2,65.0 L171.1,64.8 L172.0,64.7 L172.9,64.9 L173.8,64.9 L174.7,65.0 L175.6,64.7 L176.5,65.1 L177.4,64.9 L178.3,64.9 L179.2,65.0 L180.1,65.0 L181.0,64.9 L181.9,64.8 L182.8,64.9 L183.7,64.7" stroke="#000" stroke-width="2.6" fill="none" />
<line x1="48.5" y1="64.9" x2="56.0" y2="64.9" stroke="#000" stroke-width="1.8" />
<line x1="54.5" y1="58.7" x2="54.5" y2="67.0" stroke="#000" stroke-width="1.2" />
<line x1="183.2" y1="64.5" x2="183.2" y2="125.2" stroke="#333" stroke-width="1.0" />
<line x1="184.0" y1="64.5" x2="184.0" y2="72.0" stroke="#000" stroke-width="1.3" />
<line x1="43.6" y1="137.5" x2="43.6" y2="178.2" stroke="#000" stroke-width="1.1" />
<line x1="43.1" y1="177.8" x2="67.6" y2="177.8" stroke="#000" stroke-width="1.1" />
<text x="34.6" y="157.5" font-size="10" font-weight="bold" stroke="#000" stroke-width="0.25" text-anchor="middle" transform="rotate(-90 34.6 157.5)">50 pA/pF</text>
<text x="53.6" y="190.2" font-size="10" font-weight="bold" stroke="#000" stroke-width="0.25" text-anchor="middle" >40 ms</text>
<line x1="140.3" y1="171.5" x2="179.4" y2="171.5" stroke="#bdbdbd" stroke-width="1.0" />
<line x1="140.3" y1="172.5" x2="179.4" y2="172.5" stroke="#222" stroke-width="1.0" />
<line x1="140.3" y1="173.5" x2="179.4" y2="173.5" stroke="#bdbdbd" stroke-width="1.0" />
<line x1="140.3" y1="174.5" x2="179.4" y2="174.5" stroke="#222" stroke-width="1.0" />
<line x1="140.3" y1="175.5" x2="179.4" y2="175.5" stroke="#bdbdbd" stroke-width="1.0" />
<line x1="140.3" y1="176.5" x2="179.4" y2="176.5" stroke="#222" stroke-width="1.0" />
<line x1="140.3" y1="177.5" x2="179.4" y2="177.5" stroke="#bdbdbd" stroke-width="1.0" />
<line x1="140.3" y1="178.5" x2="179.4" y2="178.5" stroke="#222" stroke-width="1.0" />
<line x1="140.3" y1="179.5" x2="179.4" y2="179.5" stroke="#bdbdbd" stroke-width="1.0" />
<line x1="140.3" y1="180.5" x2="179.4" y2="180.5" stroke="#222" stroke-width="1.0" />
<line x1="140.3" y1="181.5" x2="179.4" y2="181.5" stroke="#bdbdbd" stroke-width="1.0" />
<line x1="140.3" y1="182.5" x2="179.4" y2="182.5" stroke="#222" stroke-width="1.0" />
<line x1="140.3" y1="183.5" x2="179.4" y2="183.5" stroke="#bdbdbd" stroke-width="1.0" />
<path d="M130.1,186.3 H140.3 V170.5 H179.4 V186.3 H189.6" stroke="#000" stroke-width="1.1" fill="none" />
<text x="158.7" y="168.2" font-size="10" font-weight="bold" stroke="#000" stroke-width="0.25" text-anchor="middle" >200 ms</text>
<text x="128.9" y="189.0" font-size="10" font-weight="bold" stroke="#000" stroke-width="0.25" text-anchor="end" >-80 mV</text>
<path d="M207.4,64.5 L207.6,64.9 L207.8,65.3 L208.1,65.6 L208.3,65.8 L208.6,66.0 L208.8,66.1 L209.1,66.2 L209.3,66.3 L209.6,66.4 L209.8,66.5 L210.1,66.5 L210.3,66.6 L210.6,66.6 L210.8,66.6 L211.1,66.7 L211.3,66.7 L211.6,66.7 L211.8,66.7 L212.1,66.7 L212.3,66.8 L212.6,66.8 L212.8,66.8 L213.1,66.8 L213.3,66.8 L213.6,66.8 L213.8,66.8 L214.1,66.7 L214.3,67.0 L214.6,66.7 L214.8,66.7 L215.1,67.0 L215.3,66.8 L215.6,66.9 L215.8,66.9 L216.1,66.9 L216.3,66.8 L216.6,67.0 L216.8,66.7 L217.1,67.0 L217.3,66.8 L217.6,66.9 L217.8,66.8 L218.1,67.0 L218.6,66.8 L219.1,66.9 L219.6,66.8 L220.1,67.0 L220.6,67.0 L221.1,66.7 L221.6,66.9 L222.1,67.0 L222.6,66.7 L223.1,66.7 L223.6,67.0 L224.1,67.0 L224.6,66.7 L225.1,66.9 L225.6,66.9 L226.1,66.7 L226.6,66.9 L227.1,66.7 L227.6,66.8 L228.1,66.7 L228.6,66.7 L229.1,66.6 L229.6,66.7 L230.1,66.8 L230.6,66.6 L231.1,66.5 L231.6,66.5 L232.1,66.6 L232.6,66.8 L233.1,66.7 L233.6,66.7 L234.1,66.7 L234.6,66.4 L235.1,66.5 L235.6,66.7 L236.1,66.7 L236.6,66.7 L237.1,66.6 L237.6,66.6 L238.1,66.6 L238.6,66.6 L239.1,66.5 L239.6,66.3 L240.1,66.4 L240.6,66.3 L241.1,66.4 L241.6,66.5 L242.1,66.3 L242.6,66.3 L243.1,66.3 L243.6,66.3 L244.1,66.4 L244.6,66.4 L245.1,66.5 L245.6,66.2 L246.1,66.3 L246.6,66.2 L247.1,66.5 L247.6,66.4 L248.1,66.4 L248.6,66.4 L249.1,66.1 L249.6,66.4 L250.1,66.2 L250.6,66.3 L251.1,66.3 L251.6,66.4 L252.1,66.2 L252.6,66.2 L253.1,66.2 L253.6,66.4 L254.1,66.2 L254.6,66.1 L255.1,66.2 L255.6,66.3 L256.1,66.2 L256.6,66.3 L257.1,66.4 L257.6,66.3 L258.1,66.3 L258.6,66.2 L259.1,66.4 L259.6,66.4 L260.1,66.2 L260.6,66.0 L261.1,66.1 L261.6,66.3 L262.1,66.3 L262.6,66.3 L263.1,66.2 L263.6,66.2 L264.1,66.1 L264.6,66.2 L265.1,66.4 L265.6,66.1 L266.1,66.2 L266.6,66.3 L267.1,66.2 L267.6,66.1 L268.1,66.1 L268.6,66.2 L269.1,66.3 L269.6,66.3 L270.1,66.1 L270.6,66.2 L271.1,66.3 L271.6,66.1 L272.1,66.2 L272.6,66.1 L273.1,66.0 L273.6,65.9 L274.1,66.2 L274.6,66.2 L275.1,66.0 L275.6,66.0 L276.1,66.0 L276.6,66.0 L277.1,66.2 L277.6,66.0 L278.1,66.1 L278.6,66.1 L279.1,66.0 L279.6,66.2 L280.1,66.1 L280.6,66.1 L281.1,66.1 L281.6,66.0 L282.1,66.0 L282.6,66.2 L283.1,66.2 L283.6,66.1 L284.1,66.1 L284.6,66.1 L285.1,66.0 L285.6,65.9 L286.1,66.1 L286.6,66.2 L287.1,65.9 L287.6,66.2 L288.1,66.0 L288.6,66.2 L289.1,66.1 L289.6,66.0 L290.1,65.9 L290.6,66.2 L291.1,66.2 L291.6,66.1 L292.1,66.1 L292.6,66.0 L293.1,66.1 L293.6,66.1 L294.1,66.1 L294.6,65.9 L295.1,66.1 L295.6,66.2 L296.1,66.0 L296.6,65.8 L297.1,65.9 L297.6,66.0 L298.1,66.0 L298.6,66.1 L299.1,66.0 L299.6,66.1 L300.1,65.9 L300.6,66.0 L301.1,66.1 L301.6,66.1 L302.1,66.1 L302.6,65.9 L303.1,66.0 L303.6,66.1 L304.1,65.8 L304.6,65.8 L305.1,65.8 L305.6,66.0 L306.1,65.9 L306.6,66.0 L307.1,66.1 L307.6,66.1 L308.1,65.8 L308.6,66.0 L309.1,66.0 L309.6,66.0 L310.1,66.1 L310.6,66.0 L311.1,66.0 L311.6,66.1 L312.1,65.9 L312.6,65.8 L313.1,65.8 L313.6,66.1 L314.1,65.9 L314.6,65.9 L315.1,66.0 L315.6,66.0 L316.1,66.0 L316.6,65.9 L317.1,65.9 L317.6,65.7 L318.1,65.8 L318.6,65.8 L319.1,65.9 L319.6,65.9 L320.1,65.7 L320.6,65.9 L321.1,65.7 L321.6,65.8 L322.1,65.7 L322.6,65.9 L323.1,65.7 L323.6,66.0 L324.1,65.8 L324.6,66.0 L325.1,65.8 L325.6,65.8 L326.1,66.0 L326.6,65.8 L327.1,65.9 L327.6,65.9 L328.1,66.0 L328.6,65.9 L329.1,65.7 L329.6,65.8 L330.1,66.0 L330.6,66.0 L331.1,65.8 L331.6,65.7 L332.1,65.7 L332.6,65.9 L333.1,65.7 L333.6,66.0 L334.1,65.7 L334.6,65.9 L335.1,65.9" stroke="#1c1c1c" stroke-width="1.35" fill="none" />
<path d="M207.4,64.5 L207.6,65.2 L207.8,66.0 L208.1,66.5 L208.3,66.9 L208.6,67.3 L208.8,67.6 L209.1,67.8 L209.3,67.9 L209.6,68.1 L209.8,68.2 L210.1,68.3 L210.3,68.4 L210.6,68.5 L210.8,68.5 L211.1,68.6 L211.3,68.6 L211.6,68.7 L211.8,68.7 L212.1,68.7 L212.3,68.7 L212.6,68.8 L212.8,68.8 L213.1,68.8 L213.3,68.8 L213.6,68.8 L213.8,68.9 L214.1,68.8 L214.3,68.9 L214.6,69.0 L214.8,68.8 L215.1,68.9 L215.3,69.0 L215.6,69.1 L215.8,68.8 L216.1,68.8 L216.3,68.9 L216.6,69.0 L216.8,68.9 L217.1,69.1 L217.3,68.8 L217.6,68.9 L217.8,68.9 L218.1,68.8 L218.6,68.9 L219.1,68.9 L219.6,68.8 L220.1,69.0 L220.6,69.1 L221.1,69.0 L221.6,68.7 L222.1,68.8 L222.6,69.0 L223.1,68.6 L223.6,68.6 L224.1,68.5 L224.6,68.9 L225.1,68.7 L225.6,68.6 L226.1,68.5 L226.6,68.8 L227.1,68.8 L227.6,68.6 L228.1,68.7 L228.6,68.5 L229.1,68.4 L229.6,68.3 L230.1,68.3 L230.6,68.2 L231.1,68.3 L231.6,68.1 L232.1,68.1 L232.6,68.4 L233.1,68.4 L233.6,68.3 L234.1,68.1 L234.6,68.1 L235.1,68.1 L235.6,68.2 L236.1,68.0 L236.6,68.0 L237.1,68.0 L237.6,68.1 L238.1,67.9 L238.6,67.7 L239.1,67.9 L239.6,68.0 L240.1,67.7 L240.6,67.9 L241.1,67.7 L241.6,67.7 L242.1,67.8 L242.6,67.6 L243.1,67.7 L243.6,67.8 L244.1,67.7 L244.6,67.8 L245.1,67.8 L245.6,67.6 L246.1,67.8 L246.6,67.7 L247.1,67.7 L247.6,67.7 L248.1,67.6 L248.6,67.7 L249.1,67.7 L249.6,67.5 L250.1,67.7 L250.6,67.7 L251.1,67.6 L251.6,67.8 L252.1,67.5 L252.6,67.6 L253.1,67.6 L253.6,67.6 L254.1,67.5 L254.6,67.7 L255.1,67.4 L255.6,67.6 L256.1,67.6 L256.6,67.7 L257.1,67.8 L257.6,67.8 L258.1,67.5 L258.6,67.8 L259.1,67.6 L259.6,67.6 L260.1,67.4 L260.6,67.8 L261.1,67.5 L261.6,67.5 L262.1,67.5 L262.6,67.5 L263.1,67.5 L263.6,67.5 L264.1,67.6 L264.6,67.5 L265.1,67.7 L265.6,67.8 L266.1,67.8 L266.6,67.6 L267.1,67.7 L267.6,67.7 L268.1,67.7 L268.6,67.6 L269.1,67.5 L269.6,67.7 L270.1,67.7 L270.6,67.5 L271.1,67.7 L271.6,67.4 L272.1,67.7 L272.6,67.8 L273.1,67.8 L273.6,67.5 L274.1,67.7 L274.6,67.7 L275.1,67.5 L275.6,67.7 L276.1,67.5 L276.6,67.5 L277.1,67.4 L277.6,67.5 L278.1,67.8 L278.6,67.7 L279.1,67.7 L279.6,67.8 L280.1,67.5 L280.6,67.8 L281.1,67.8 L281.6,67.7 L282.1,67.6 L282.6,67.5 L283.1,67.6 L283.6,67.6 L284.1,67.5 L284.6,67.7 L285.1,67.7 L285.6,67.5 L286.1,67.5 L286.6,67.6 L287.1,67.7 L287.6,67.7 L288.1,67.7 L288.6,67.8 L289.1,67.7 L289.6,67.6 L290.1,67.7 L290.6,67.7 L291.1,67.6 L291.6,67.5 L292.1,67.6 L292.6,67.7 L293.1,67.7 L293.6,67.6 L294.1,67.7 L294.6,67.5 L295.1,67.7 L295.6,67.6 L296.1,67.8 L296.6,67.8 L297.1,67.5 L297.6,67.8 L298.1,67.5 L298.6,67.8 L299.1,67.9 L299.6,67.5 L300.1,67.6 L300.6,67.5 L301.1,67.8 L301.6,67.8 L302.1,67.8 L302.6,67.8 L303.1,67.6 L303.6,67.8 L304.1,67.6 L304.6,67.6 L305.1,67.6 L305.6,67.7 L306.1,67.6 L306.6,67.7 L307.1,67.7 L307.6,67.8 L308.1,67.6 L308.6,67.6 L309.1,67.7 L309.6,67.6 L310.1,67.8 L310.6,67.5 L311.1,67.5 L311.6,67.5 L312.1,67.6 L312.6,67.8 L313.1,67.7 L313.6,67.7 L314.1,67.9 L314.6,67.8 L315.1,67.6 L315.6,67.6 L316.1,67.7 L316.6,67.6 L317.1,67.7 L317.6,67.5 L318.1,67.6 L318.6,67.8 L319.1,67.6 L319.6,67.5 L320.1,67.8 L320.6,67.6 L321.1,67.8 L321.6,67.7 L322.1,67.8 L322.6,67.7 L323.1,67.7 L323.6,67.6 L324.1,67.5 L324.6,67.9 L325.1,67.6 L325.6,67.5 L326.1,67.9 L326.6,67.7 L327.1,67.7 L327.6,67.9 L328.1,67.8 L328.6,67.6 L329.1,67.6 L329.6,67.8 L330.1,67.8 L330.6,67.6 L331.1,67.6 L331.6,67.7 L332.1,67.5 L332.6,67.8 L333.1,67.8 L333.6,67.6 L334.1,67.7 L334.6,67.7 L335.1,67.5" stroke="#1c1c1c" stroke-width="1.35" fill="none" />
<path d="M207.4,64.5 L207.6,65.6 L207.8,66.7 L208.1,67.6 L208.3,68.2 L208.6,68.8 L208.8,69.2 L209.1,69.5 L209.3,69.8 L209.6,70.0 L209.8,70.2 L210.1,70.3 L210.3,70.4 L210.6,70.6 L210.8,70.7 L211.1,70.7 L211.3,70.8 L211.6,70.9 L211.8,70.9 L212.1,71.0 L212.3,71.0 L212.6,71.0 L212.8,71.1 L213.1,71.1 L213.3,71.1 L213.6,71.2 L213.8,71.2 L214.1,71.2 L214.3,71.2 L214.6,71.2 L214.8,71.4 L215.1,71.3 L215.3,71.4 L215.6,71.2 L215.8,71.5 L216.1,71.4 L216.3,71.3 L216.6,71.1 L216.8,71.3 L217.1,71.1 L217.3,71.3 L217.6,71.2 L217.8,71.2 L218.1,71.3 L218.3,71.2 L218.6,71.3 L219.1,71.4 L219.6,71.2 L220.1,71.4 L220.6,71.6 L221.1,71.5 L221.6,71.6 L222.1,71.2 L222.6,71.4 L223.1,71.3 L223.6,71.6 L224.1,71.4 L224.6,71.5 L225.1,71.5 L225.6,71.2 L226.1,71.2 L226.6,71.5 L227.1,71.5 L227.6,71.3 L228.1,71.2 L228.6,71.2 L229.1,71.5 L229.6,71.4 L230.1,71.3 L230.6,71.4 L231.1,71.5 L231.6,71.1 L232.1,71.4 L232.6,71.5 L233.1,71.5 L233.6,71.5 L234.1,71.3 L234.6,71.4 L235.1,71.1 L235.6,71.4 L236.1,71.4 L236.6,71.3 L237.1,71.1 L237.6,71.2 L238.1,71.2 L238.6,71.5 L239.1,71.3 L239.6,71.4 L240.1,71.1 L240.6,71.2 L241.1,71.2 L241.6,71.2 L242.1,71.4 L242.6,71.2 L243.1,71.2 L243.6,71.3 L244.1,71.2 L244.6,71.4 L245.1,71.3 L245.6,71.4 L246.1,71.2 L246.6,71.2 L247.1,71.2 L247.6,71.4 L248.1,71.4 L248.6,71.2 L249.1,71.2 L249.6,71.0 L250.1,71.3 L250.6,71.2 L251.1,71.2 L251.6,71.0 L252.1,71.2 L252.6,71.3 L253.1,71.1 L253.6,71.1 L254.1,71.2 L254.6,71.2 L255.1,71.0 L255.6,71.0 L256.1,71.1 L256.6,71.2 L257.1,71.1 L257.6,70.9 L258.1,71.0 L258.6,71.0 L259.1,71.2 L259.6,71.0 L260.1,71.3 L260.6,71.0 L261.1,71.0 L261.6,70.9 L262.1,71.1 L262.6,71.1 L263.1,71.2 L263.6,71.2 L264.1,71.1 L264.6,70.9 L265.1,71.3 L265.6,71.0 L266.1,71.0 L266.6,70.9 L267.1,71.1 L267.6,71.1 L268.1,71.0 L268.6,71.0 L269.1,70.9 L269.6,71.1 L270.1,71.1 L270.6,70.9 L271.1,70.9 L271.6,71.1 L272.1,71.1 L272.6,70.9 L273.1,71.2 L273.6,71.1 L274.1,71.1 L274.6,70.9 L275.1,71.2 L275.6,71.0 L276.1,71.1 L276.6,71.2 L277.1,71.1 L277.6,70.9 L278.1,70.8 L278.6,70.9 L279.1,70.8 L279.6,71.1 L280.1,71.0 L280.6,71.0 L281.1,70.9 L281.6,71.0 L282.1,70.9 L282.6,71.0 L283.1,70.9 L283.6,71.1 L284.1,71.1 L284.6,71.1 L285.1,71.0 L285.6,70.8 L286.1,70.9 L286.6,71.1 L287.1,70.9 L287.6,70.9 L288.1,70.8 L288.6,71.0 L289.1,70.8 L289.6,70.8 L290.1,71.0 L290.6,70.7 L291.1,70.7 L291.6,70.8 L292.1,70.8 L292.6,70.7 L293.1,70.8 L293.6,71.0 L294.1,71.0 L294.6,71.0 L295.1,71.0 L295.6,70.7 L296.1,70.8 L296.6,70.8 L297.1,70.6 L297.6,70.9 L298.1,70.7 L298.6,70.9 L299.1,70.9 L299.6,70.7 L300.1,70.7 L300.6,70.8 L301.1,70.7 L301.6,70.6 L302.1,70.8 L302.6,70.7 L303.1,70.7 L303.6,70.9 L304.1,70.9 L304.6,70.7 L305.1,70.6 L305.6,70.9 L306.1,70.7 L306.6,70.6 L307.1,70.8 L307.6,70.9 L308.1,70.6 L308.6,70.7 L309.1,70.9 L309.6,70.7 L310.1,70.7 L310.6,70.6 L311.1,70.5 L311.6,70.9 L312.1,70.8 L312.6,70.6 L313.1,70.7 L313.6,70.6 L314.1,70.8 L314.6,70.6 L315.1,70.8 L315.6,70.7 L316.1,70.5 L316.6,70.7 L317.1,70.7 L317.6,70.5 L318.1,70.5 L318.6,70.5 L319.1,70.7 L319.6,70.8 L320.1,70.6 L320.6,70.8 L321.1,70.7 L321.6,70.5 L322.1,70.6 L322.6,70.8 L323.1,70.6 L323.6,70.6 L324.1,70.7 L324.6,70.4 L325.1,70.6 L325.6,70.6 L326.1,70.6 L326.6,70.7 L327.1,70.5 L327.6,70.6 L328.1,70.5 L328.6,70.4 L329.1,70.7 L329.6,70.7 L330.1,70.6 L330.6,70.5 L331.1,70.5 L331.6,70.5 L332.1,70.5 L332.6,70.4 L333.1,70.7 L333.6,70.5 L334.1,70.4 L334.6,70.6 L335.1,70.3" stroke="#1c1c1c" stroke-width="1.35" fill="none" />
<path d="M207.4,64.5 L207.6,66.3 L207.8,68.0 L208.1,69.4 L208.3,70.4 L208.6,71.2 L208.8,71.9 L209.1,72.4 L209.3,72.8 L209.6,73.2 L209.8,73.5 L210.1,73.7 L210.3,73.9 L210.6,74.1 L210.8,74.2 L211.1,74.3 L211.3,74.5 L211.6,74.6 L211.8,74.6 L212.1,74.7 L212.3,74.8 L212.6,74.8 L212.8,74.9 L213.1,74.9 L213.3,75.0 L213.6,75.0 L213.8,75.1 L214.1,75.1 L214.3,75.1 L214.6,75.2 L214.8,75.2 L215.1,75.1 L215.3,75.2 L215.6,75.4 L215.8,75.2 L216.1,75.1 L216.3,75.5 L216.6,75.1 L216.8,75.3 L217.1,75.3 L217.3,75.5 L217.6,75.3 L217.8,75.2 L218.1,75.2 L218.3,75.3 L218.6,75.2 L218.8,75.5 L219.1,75.3 L219.6,75.4 L220.1,75.2 L220.6,75.4 L221.1,75.5 L221.6,75.2 L222.1,75.5 L222.6,75.2 L223.1,75.4 L223.6,75.4 L224.1,75.2 L224.6,75.4 L225.1,75.2 L225.6,75.2 L226.1,75.4 L226.6,75.2 L227.1,75.0 L227.6,75.0 L228.1,75.1 L228.6,75.0 L229.1,74.9 L229.6,75.2 L230.1,75.0 L230.6,75.2 L231.1,74.9 L231.6,74.9 L232.1,74.9 L232.6,75.1 L233.1,75.1 L233.6,74.9 L234.1,74.8 L234.6,74.9 L235.1,74.8 L235.6,74.8 L236.1,74.6 L236.6,74.6 L237.1,75.0 L237.6,74.9 L238.1,74.6 L238.6,74.8 L239.1,74.5 L239.6,74.8 L240.1,74.7 L240.6,74.8 L241.1,74.6 L241.6,74.6 L242.1,74.7 L242.6,74.5 L243.1,74.4 L243.6,74.4 L244.1,74.7 L244.6,74.5 L245.1,74.4 L245.6,74.6 L246.1,74.4 L246.6,74.5 L247.1,74.6 L247.6,74.4 L248.1,74.5 L248.6,74.7 L249.1,74.7 L249.6,74.7 L250.1,74.3 L250.6,74.7 L251.1,74.5 L251.6,74.4 L252.1,74.7 L252.6,74.3 L253.1,74.7 L253.6,74.3 L254.1,74.3 L254.6,74.5 L255.1,74.6 L255.6,74.5 L256.1,74.6 L256.6,74.3 L257.1,74.6 L257.6,74.4 L258.1,74.7 L258.6,74.6 L259.1,74.6 L259.6,74.4 L260.1,74.7 L260.6,74.4 L261.1,74.4 L261.6,74.5 L262.1,74.6 L262.6,74.5 L263.1,74.5 L263.6,74.6 L264.1,74.4 L264.6,74.4 L265.1,74.5 L265.6,74.6 L266.1,74.6 L266.6,74.4 L267.1,74.6 L267.6,74.7 L268.1,74.6 L268.6,74.4 L269.1,74.4 L269.6,74.8 L270.1,74.7 L270.6,74.5 L271.1,74.7 L271.6,74.6 L272.1,74.6 L272.6,74.5 L273.1,74.7 L273.6,74.6 L274.1,74.6 L274.6,74.5 L275.1,74.7 L275.6,74.8 L276.1,74.5 L276.6,74.5 L277.1,74.5 L277.6,74.7 L278.1,74.6 L278.6,74.4 L279.1,74.8 L279.6,74.6 L280.1,74.5 L280.6,74.8 L281.1,74.7 L281.6,74.8 L282.1,74.8 L282.6,74.8 L283.1,74.9 L283.6,74.7 L284.1,74.8 L284.6,74.7 L285.1,74.8 L285.6,74.6 L286.1,74.8 L286.6,74.6 L287.1,74.9 L287.6,74.6 L288.1,74.8 L288.6,74.9 L289.1,74.9 L289.6,74.9 L290.1,74.7 L290.6,74.6 L291.1,75.0 L291.6,74.7 L292.1,74.9 L292.6,74.8 L293.1,74.8 L293.6,74.8 L294.1,74.8 L294.6,74.9 L295.1,74.9 L295.6,74.7 L296.1,74.9 L296.6,74.7 L297.1,75.0 L297.6,74.7 L298.1,74.8 L298.6,74.9 L299.1,74.8 L299.6,75.0 L300.1,75.0 L300.6,74.8 L301.1,74.9 L301.6,75.0 L302.1,74.9 L302.6,75.0 L303.1,74.9 L303.6,75.0 L304.1,75.0 L304.6,75.1 L305.1,74.9 L305.6,75.1 L306.1,74.8 L306.6,74.9 L307.1,74.9 L307.6,75.2 L308.1,74.8 L308.6,74.9 L309.1,75.0 L309.6,75.1 L310.1,75.1 L310.6,74.9 L311.1,75.0 L311.6,75.1 L312.1,74.9 L312.6,74.9 L313.1,75.2 L313.6,74.8 L314.1,74.9 L314.6,74.9 L315.1,75.2 L315.6,75.0 L316.1,75.1 L316.6,75.1 L317.1,75.3 L317.6,74.9 L318.1,75.0 L318.6,75.1 L319.1,75.2 L319.6,75.0 L320.1,75.1 L320.6,75.2 L321.1,75.0 L321.6,75.1 L322.1,75.0 L322.6,75.3 L323.1,75.0 L323.6,75.0 L324.1,75.2 L324.6,75.1 L325.1,75.2 L325.6,75.1 L326.1,75.4 L326.6,75.2 L327.1,75.2 L327.6,75.1 L328.1,75.2 L328.6,75.3 L329.1,75.3 L329.6,75.3 L330.1,75.3 L330.6,75.4 L331.1,75.2 L331.6,75.3 L332.1,75.5 L332.6,75.4 L333.1,75.3 L333.6,75.4 L334.1,75.4 L334.6,75.2 L335.1,75.3" stroke="#1c1c1c" stroke-width="1.35" fill="none" />
<path d="M207.4,64.5 L207.6,66.9 L207.8,69.3 L208.1,71.2 L208.3,72.6 L208.6,73.7 L208.8,74.6 L209.1,75.3 L209.3,75.9 L209.6,76.4 L209.8,76.7 L210.1,77.1 L210.3,77.3 L210.6,77.6 L210.8,77.8 L211.1,78.0 L211.3,78.1 L211.6,78.2 L211.8,78.4 L212.1,78.5 L212.3,78.6 L212.6,78.6 L212.8,78.7 L213.1,78.8 L213.3,78.8 L213.6,78.9 L213.8,78.9 L214.1,79.0 L214.3,79.0 L214.6,79.1 L214.8,79.1 L215.1,79.2 L215.3,79.1 L215.6,79.1 L215.8,79.2 L216.1,79.0 L216.3,79.1 L216.6,79.5 L216.8,79.2 L217.1,79.4 L217.3,79.1 L217.6,79.2 L217.8,79.3 L218.1,79.2 L218.3,79.5 L218.6,79.5 L218.8,79.2 L219.1,79.2 L219.6,79.5 L220.1,79.5 L220.6,79.3 L221.1,79.1 L221.6,79.1 L222.1,79.4 L222.6,79.4 L223.1,79.3 L223.6,79.2 L224.1,79.2 L224.6,79.2 L225.1,79.2 L225.6,79.3 L226.1,79.2 L226.6,79.2 L227.1,79.1 L227.6,79.3 L228.1,79.4 L228.6,79.1 L229.1,79.3 L229.6,79.2 L230.1,79.0 L230.6,79.0 L231.1,79.3 L231.6,79.0 L232.1,78.9 L232.6,78.9 L233.1,79.2 L233.6,79.0 L234.1,78.8 L234.6,78.9 L235.1,79.0 L235.6,79.0 L236.1,78.8 L236.6,79.1 L237.1,79.0 L237.6,78.8 L238.1,78.8 L238.6,78.8 L239.1,78.7 L239.6,78.9 L240.1,78.7 L240.6,78.9 L241.1,79.0 L241.6,78.7 L242.1,78.7 L242.6,78.7 L243.1,78.7 L243.6,78.6 L244.1,78.7 L244.6,78.6 L245.1,78.5 L245.6,78.8 L246.1,78.8 L246.6,78.7 L247.1,78.5 L247.6,78.7 L248.1,78.6 L248.6,78.8 L249.1,78.7 L249.6,78.5 L250.1,78.7 L250.6,78.6 L251.1,78.5 L251.6,78.7 L252.1,78.5 L252.6,78.4 L253.1,78.4 L253.6,78.6 L254.1,78.4 L254.6,78.4 L255.1,78.3 L255.6,78.6 L256.1,78.4 L256.6,78.6 L257.1,78.6 L257.6,78.6 L258.1,78.3 L258.6,78.6 L259.1,78.5 L259.6,78.6 L260.1,78.6 L260.6,78.3 L261.1,78.4 L261.6,78.6 L262.1,78.3 L262.6,78.2 L263.1,78.2 L263.6,78.4 L264.1,78.3 L264.6,78.5 L265.1,78.1 L265.6,78.3 L266.1,78.4 L266.6,78.4 L267.1,78.5 L267.6,78.4 L268.1,78.5 L268.6,78.5 L269.1,78.4 L269.6,78.3 L270.1,78.2 L270.6,78.3 L271.1,78.1 L271.6,78.2 L272.1,78.3 L272.6,78.2 L273.1,78.2 L273.6,78.1 L274.1,78.4 L274.6,78.1 L275.1,78.2 L275.6,78.1 L276.1,78.2 L276.6,78.3 L277.1,78.4 L277.6,78.2 L278.1,78.3 L278.6,78.1 L279.1,78.1 L279.6,78.1 L280.1,78.3 L280.6,78.0 L281.1,78.0 L281.6,78.2 L282.1,78.0 L282.6,77.9 L283.1,78.0 L283.6,78.1 L284.1,78.1 L284.6,78.0 L285.1,78.0 L285.6,78.0 L286.1,77.9 L286.6,78.0 L287.1,77.9 L287.6,77.9 L288.1,78.2 L288.6,78.2 L289.1,78.0 L289.6,78.0 L290.1,77.8 L290.6,77.8 L291.1,78.0 L291.6,78.2 L292.1,77.8 L292.6,77.9 L293.1,78.1 L293.6,77.7 L294.1,78.0 L294.6,77.8 L295.1,78.0 L295.6,78.1 L296.1,78.1 L296.6,78.0 L297.1,77.7 L297.6,78.0 L298.1,77.9 L298.6,77.8 L299.1,77.8 L299.6,77.9 L300.1,77.8 L300.6,77.8 L301.1,78.0 L301.6,77.7 L302.1,78.0 L302.6,77.7 L303.1,77.9 L303.6,77.8 L304.1,77.8 L304.6,77.8 L305.1,77.6 L305.6,77.7 L306.1,77.8 L306.6,77.7 L307.1,77.9 L307.6,77.8 L308.1,77.8 L308.6,77.8 L309.1,77.6 L309.6,77.5 L310.1,77.6 L310.6,77.9 L311.1,77.7 L311.6,77.9 L312.1,77.6 L312.6,77.7 L313.1,77.8 L313.6,77.8 L314.1,77.7 L314.6,77.7 L315.1,77.6 L315.6,77.6 L316.1,77.8 L316.6,77.8 L317.1,77.6 L317.6,77.5 L318.1,77.8 L318.6,77.6 L319.1,77.7 L319.6,77.6 L320.1,77.4 L320.6,77.7 L321.1,77.4 L321.6,77.8 L322.1,77.4 L322.6,77.5 L323.1,77.4 L323.6,77.4 L324.1,77.6 L324.6,77.4 L325.1,77.4 L325.6,77.3 L326.1,77.3 L326.6,77.5 L327.1,77.4 L327.6,77.6 L328.1,77.6 L328.6,77.5 L329.1,77.7 L329.6,77.7 L330.1,77.4 L330.6,77.6 L331.1,77.5 L331.6,77.3 L332.1,77.6 L332.6,77.2 L333.1,77.5 L333.6,77.6 L334.1,77.5 L334.6,77.5 L335.1,77.5" stroke="#1c1c1c" stroke-width="1.35" fill="none" />
<path d="M207.4,64.5 L207.6,67.4 L207.8,70.3 L208.1,72.6 L208.3,74.3 L208.6,75.6 L208.8,76.7 L209.1,77.6 L209.3,78.3 L209.6,78.8 L209.8,79.3 L210.1,79.7 L210.3,80.0 L210.6,80.3 L210.8,80.5 L211.1,80.8 L211.3,80.9 L211.6,81.1 L211.8,81.2 L212.1,81.4 L212.3,81.5 L212.6,81.6 L212.8,81.7 L213.1,81.8 L213.3,81.8 L213.6,81.9 L213.8,82.0 L214.1,82.0 L214.3,82.1 L214.6,82.1 L214.8,82.1 L215.1,82.2 L215.3,82.2 L215.6,82.2 L215.8,82.1 L216.1,82.2 L216.3,82.2 L216.6,82.4 L216.8,82.5 L217.1,82.5 L217.3,82.3 L217.6,82.5 L217.8,82.5 L218.1,82.2 L218.3,82.4 L218.6,82.2 L218.8,82.2 L219.1,82.4 L219.3,82.5 L219.6,82.2 L220.1,82.3 L220.6,82.4 L221.1,82.4 L221.6,82.2 L222.1,82.2 L222.6,82.1 L223.1,82.2 L223.6,82.4 L224.1,82.1 L224.6,82.3 L225.1,82.2 L225.6,82.3 L226.1,82.2 L226.6,81.9 L227.1,82.0 L227.6,82.1 L228.1,82.0 L228.6,82.1 L229.1,81.7 L229.6,82.0 L230.1,81.8 L230.6,81.9 L231.1,81.8 L231.6,81.6 L232.1,81.6 L232.6,81.4 L233.1,81.7 L233.6,81.7 L234.1,81.5 L234.6,81.5 L235.1,81.5 L235.6,81.3 L236.1,81.2 L236.6,81.3 L237.1,81.4 L237.6,81.3 L238.1,81.3 L238.6,81.0 L239.1,81.0 L239.6,80.9 L240.1,81.0 L240.6,81.1 L241.1,81.0 L241.6,80.9 L242.1,80.8 L242.6,80.7 L243.1,80.7 L243.6,81.0 L244.1,80.9 L244.6,80.8 L245.1,80.8 L245.6,80.5 L246.1,80.4 L246.6,80.4 L247.1,80.4 L247.6,80.4 L248.1,80.8 L248.6,80.6 L249.1,80.4 L249.6,80.3 L250.1,80.3 L250.6,80.3 L251.1,80.3 L251.6,80.4 L252.1,80.3 L252.6,80.3 L253.1,80.5 L253.6,80.3 L254.1,80.3 L254.6,80.5 L255.1,80.3 L255.6,80.5 L256.1,80.3 L256.6,80.5 L257.1,80.2 L257.6,80.3 L258.1,80.5 L258.6,80.3 L259.1,80.4 L259.6,80.2 L260.1,80.2 L260.6,80.3 L261.1,80.3 L261.6,80.1 L262.1,80.3 L262.6,80.2 L263.1,80.2 L263.6,80.4 L264.1,80.4 L264.6,80.2 L265.1,80.2 L265.6,80.3 L266.1,80.3 L266.6,80.2 L267.1,80.3 L267.6,80.1 L268.1,80.3 L268.6,80.2 L269.1,80.3 L269.6,80.1 L270.1,80.0 L270.6,80.3 L271.1,80.2 L271.6,80.3 L272.1,80.3 L272.6,80.3 L273.1,80.1 L273.6,80.3 L274.1,80.2 L274.6,80.1 L275.1,80.0 L275.6,79.9 L276.1,80.0 L276.6,80.0 L277.1,80.0 L277.6,80.1 L278.1,80.3 L278.6,80.1 L279.1,80.1 L279.6,79.8 L280.1,80.1 L280.6,80.1 L281.1,80.2 L281.6,80.0 L282.1,80.1 L282.6,80.0 L283.1,80.1 L283.6,80.0 L284.1,80.1 L284.6,80.2 L285.1,80.0 L285.6,80.0 L286.1,80.1 L286.6,80.0 L287.1,80.2 L287.6,80.2 L288.1,80.0 L288.6,80.0 L289.1,79.8 L289.6,80.1 L290.1,80.0 L290.6,79.7 L291.1,79.7 L291.6,80.1 L292.1,80.0 L292.6,80.0 L293.1,79.9 L293.6,79.8 L294.1,79.9 L294.6,80.1 L295.1,79.9 L295.6,79.7 L296.1,79.8 L296.6,79.7 L297.1,80.0 L297.6,80.0 L298.1,80.0 L298.6,79.8 L299.1,79.8 L299.6,79.7 L300.1,79.7 L300.6,79.8 L301.1,79.8 L301.6,79.8 L302.1,79.9 L302.6,80.0 L303.1,79.8 L303.6,79.9 L304.1,79.7 L304.6,79.7 L305.1,79.9 L305.6,79.6 L306.1,79.6 L306.6,80.0 L307.1,79.8 L307.6,79.7 L308.1,79.9 L308.6,79.9 L309.1,79.7 L309.6,79.9 L310.1,79.6 L310.6,79.9 L311.1,79.7 L311.6,79.7 L312.1,79.5 L312.6,79.6 L313.1,79.7 L313.6,79.6 L314.1,79.8 L314.6,79.9 L315.1,79.6 L315.6,79.8 L316.1,79.7 L316.6,79.7 L317.1,79.8 L317.6,79.7 L318.1,79.8 L318.6,79.5 L319.1,79.7 L319.6,79.7 L320.1,79.5 L320.6,79.5 L321.1,79.8 L321.6,79.7 L322.1,79.6 L322.6,79.6 L323.1,79.8 L323.6,79.7 L324.1,79.5 L324.6,79.8 L325.1,79.8 L325.6,79.7 L326.1,79.7 L326.6,79.7 L327.1,79.5 L327.6,79.8 L328.1,79.7 L328.6,79.4 L329.1,79.7 L329.6,79.5 L330.1,79.4 L330.6,79.7 L331.1,79.4 L331.6,79.5 L332.1,79.4 L332.6,79.5 L333.1,79.5 L333.6,79.7 L334.1,79.7 L334.6,79.7 L335.1,79.6" stroke="#1c1c1c" stroke-width="1.35" fill="none" />
<path d="M207.4,64.5 L207.6,68.5 L207.8,72.4 L208.1,75.4 L208.3,77.8 L208.6,79.6 L208.8,81.0 L209.1,82.2 L209.3,83.1 L209.6,83.9 L209.8,84.6 L210.1,85.1 L210.3,85.5 L210.6,85.9 L210.8,86.2 L211.1,86.5 L211.3,86.8 L211.6,87.0 L211.8,87.2 L212.1,87.4 L212.3,87.5 L212.6,87.7 L212.8,87.8 L213.1,87.9 L213.3,88.0 L213.6,88.1 L213.8,88.2 L214.1,88.2 L214.3,88.3 L214.6,88.4 L214.8,88.4 L215.1,88.5 L215.3,88.5 L215.6,88.5 L215.8,88.6 L216.1,88.6 L216.3,88.6 L216.6,88.7 L216.8,88.7 L217.1,88.7 L217.3,88.9 L217.6,88.6 L217.8,88.7 L218.1,88.8 L218.3,88.7 L218.6,88.8 L218.8,88.6 L219.1,88.7 L219.3,88.6 L219.6,88.8 L219.8,88.7 L220.1,88.9 L220.3,88.7 L220.6,88.7 L220.8,88.9 L221.1,88.7 L221.6,88.9 L222.1,88.8 L222.6,88.6 L223.1,88.8 L223.6,88.9 L224.1,88.6 L224.6,88.7 L225.1,88.6 L225.6,88.8 L226.1,88.8 L226.6,88.3 L227.1,88.4 L227.6,88.6 L228.1,88.4 L228.6,88.4 L229.1,88.4 L229.6,88.1 L230.1,88.1 L230.6,88.4 L231.1,88.1 L231.6,88.1 L232.1,88.1 L232.6,88.1 L233.1,88.1 L233.6,87.8 L234.1,87.9 L234.6,87.6 L235.1,87.8 L235.6,87.9 L236.1,87.7 L236.6,87.6 L237.1,87.7 L237.6,87.6 L238.1,87.7 L238.6,87.4 L239.1,87.3 L239.6,87.4 L240.1,87.3 L240.6,87.0 L241.1,87.0 L241.6,87.3 L242.1,87.1 L242.6,86.8 L243.1,87.1 L243.6,87.0 L244.1,86.7 L244.6,87.0 L245.1,86.7 L245.6,86.8 L246.1,86.8 L246.6,86.7 L247.1,86.6 L247.6,86.6 L248.1,86.6 L248.6,86.7 L249.1,86.6 L249.6,86.6 L250.1,86.5 L250.6,86.3 L251.1,86.3 L251.6,86.5 L252.1,86.4 L252.6,86.1 L253.1,86.3 L253.6,86.1 L254.1,85.9 L254.6,86.1 L255.1,86.2 L255.6,86.0 L256.1,86.1 L256.6,86.1 L257.1,86.0 L257.6,85.8 L258.1,86.0 L258.6,85.6 L259.1,85.8 L259.6,85.6 L260.1,85.7 L260.6,85.8 L261.1,85.8 L261.6,85.8 L262.1,85.6 L262.6,85.5 L263.1,85.4 L263.6,85.5 L264.1,85.6 L264.6,85.3 L265.1,85.5 L265.6,85.3 L266.1,85.4 L266.6,85.1 L267.1,85.4 L267.6,85.0 L268.1,85.0 L268.6,85.2 L269.1,85.2 L269.6,85.2 L270.1,85.0 L270.6,85.1 L271.1,84.9 L271.6,84.9 L272.1,84.8 L272.6,84.8 L273.1,84.7 L273.6,84.7 L274.1,84.8 L274.6,84.8 L275.1,84.6 L275.6,84.7 L276.1,84.6 L276.6,84.7 L277.1,84.4 L277.6,84.7 L278.1,84.7 L278.6,84.5 L279.1,84.5 L279.6,84.6 L280.1,84.2 L280.6,84.2 L281.1,84.3 L281.6,84.4 L282.1,84.3 L282.6,84.2 L283.1,84.2 L283.6,84.2 L284.1,84.3 L284.6,83.9 L285.1,84.1 L285.6,83.9 L286.1,84.2 L286.6,83.9 L287.1,84.1 L287.6,83.8 L288.1,83.9 L288.6,83.9 L289.1,84.0 L289.6,83.8 L290.1,83.8 L290.6,83.7 L291.1,83.6 L291.6,83.8 L292.1,83.6 L292.6,83.5 L293.1,83.4 L293.6,83.6 L294.1,83.7 L294.6,83.5 L295.1,83.6 L295.6,83.3 L296.1,83.5 L296.6,83.5 L297.1,83.2 L297.6,83.1 L298.1,83.2 L298.6,83.2 L299.1,83.2 L299.6,83.2 L300.1,83.0 L300.6,83.0 L301.1,83.0 L301.6,82.9 L302.1,83.0 L302.6,83.0 L303.1,82.8 L303.6,82.8 L304.1,83.0 L304.6,82.7 L305.1,83.0 L305.6,82.8 L306.1,82.6 L306.6,82.5 L307.1,82.8 L307.6,82.5 L308.1,82.7 L308.6,82.6 L309.1,82.6 L309.6,82.4 L310.1,82.6 L310.6,82.4 L311.1,82.5 L311.6,82.6 L312.1,82.4 L312.6,82.2 L313.1,82.2 L313.6,82.2 L314.1,82.4 L314.6,82.3 L315.1,82.1 L315.6,82.2 L316.1,82.1 L316.6,82.1 L317.1,82.0 L317.6,82.2 L318.1,81.9 L318.6,81.9 L319.1,82.0 L319.6,81.8 L320.1,81.7 L320.6,81.8 L321.1,81.9 L321.6,81.7 L322.1,81.7 L322.6,81.6 L323.1,81.7 L323.6,81.6 L324.1,81.6 L324.6,81.6 L325.1,81.4 L325.6,81.4 L326.1,81.6 L326.6,81.3 L327.1,81.5 L327.6,81.2 L328.1,81.4 L328.6,81.3 L329.1,81.4 L329.6,81.1 L330.1,81.1 L330.6,81.2 L331.1,81.3 L331.6,81.1 L332.1,81.3 L332.6,81.1 L333.1,81.2 L333.6,80.8 L334.1,81.1 L334.6,80.8 L335.1,80.8" stroke="#1c1c1c" stroke-width="1.35" fill="none" />
<path d="M207.0,64.5 L207.9,64.5 L208.8,64.7 L209.7,64.7 L210.6,64.6 L211.5,64.4 L212.4,64.4 L213.3,64.5 L214.2,64.4 L215.1,64.4 L216.0,64.4 L216.9,64.4 L217.8,64.4 L218.7,64.3 L219.6,64.4 L220.5,64.7 L221.4,64.6 L222.3,64.5 L223.2,64.7 L224.1,64.7 L225.0,64.3 L225.9,64.3 L226.8,64.4 L227.7,64.5 L228.6,64.7 L229.5,64.3 L230.4,64.6 L231.3,64.6 L232.2,64.4 L233.1,64.6 L234.0,64.6 L234.9,64.3 L235.8,64.6 L236.7,64.5 L237.6,64.6 L238.5,64.4 L239.4,64.6 L240.3,64.3 L241.2,64.3 L242.1,64.5 L243.0,64.4 L243.9,64.5 L244.8,64.4 L245.7,64.7 L246.6,64.5 L247.5,64.5 L248.4,64.4 L249.3,64.7 L250.2,64.4 L251.1,64.7 L252.0,64.4 L252.9,64.7 L253.8,64.5 L254.7,64.5 L255.6,64.4 L256.5,64.6 L257.4,64.4 L258.3,64.6 L259.2,64.6 L260.1,64.7 L261.0,64.7 L261.9,64.6 L262.8,64.4 L263.7,64.6 L264.6,64.3 L265.5,64.6 L266.4,64.7 L267.3,64.4 L268.2,64.3 L269.1,64.6 L270.0,64.4 L270.9,64.6 L271.8,64.6 L272.7,64.7 L273.6,64.5 L274.5,64.6 L275.4,64.7 L276.3,64.6 L277.2,64.4 L278.1,64.7 L279.0,64.5 L279.9,64.7 L280.8,64.5 L281.7,64.5 L282.6,64.3 L283.5,64.3 L284.4,64.7 L285.3,64.5 L286.2,64.6 L287.1,64.5 L288.0,64.6 L288.9,64.5 L289.8,64.4 L290.7,64.4 L291.6,64.6 L292.5,64.4 L293.4,64.7 L294.3,64.3 L295.2,64.5 L296.1,64.6 L297.0,64.6 L297.9,64.4 L298.8,64.3 L299.7,64.6 L300.6,64.5 L301.5,64.3 L302.4,64.4 L303.3,64.6 L304.2,64.3 L305.1,64.4 L306.0,64.7 L306.9,64.4 L307.8,64.6 L308.7,64.3 L309.6,64.4 L310.5,64.3 L311.4,64.6 L312.3,64.5 L313.2,64.6 L314.1,64.6 L315.0,64.6 L315.9,64.3 L316.8,64.5 L317.7,64.3 L318.6,64.6 L319.5,64.5 L320.4,64.5 L321.3,64.7 L322.2,64.7 L323.1,64.5 L324.0,64.5 L324.9,64.6 L325.8,64.6 L326.7,64.4 L327.6,64.5 L328.5,64.7 L329.4,64.7 L330.3,64.7 L331.2,64.5 L332.1,64.4 L333.0,64.7 L333.9,64.4 L334.8,64.5 L335.7,64.5 L336.6,64.6 L337.5,64.4 L338.4,64.5 L339.3,64.6" stroke="#000" stroke-width="2.3" fill="none" />
<line x1="201.2" y1="64.5" x2="208.0" y2="64.5" stroke="#000" stroke-width="1.8" />
<line x1="207.0" y1="59.3" x2="207.0" y2="66.0" stroke="#000" stroke-width="1.1" />
<line x1="335.4" y1="65.0" x2="335.4" y2="82.3" stroke="#333" stroke-width="1.0" />
<rect x="335" y="63.9" width="5" height="3" fill="#000"/>
<text x="389.6" y="12.5" font-size="16.8"  text-anchor="start" >B</text>
<circle cx="443.0" cy="26.3" r="2.6" fill="#fff" stroke="#000" stroke-width="1.0"/>
<text x="450.4" y="31.1" font-size="10.35" font-weight="bold" stroke="#000" stroke-width="0.25" text-anchor="start" >Ca<tspan font-size="6.6" dy="2.6">v</tspan><tspan dy="-2.6">α</tspan><tspan font-size="6.6" dy="2.6">1c</tspan><tspan dy="-2.6"> </tspan>WT (n=10)</text>
<circle cx="443.0" cy="41.6" r="3.0" fill="#000"/>
<text x="450.4" y="46.6" font-size="10.35" font-weight="bold" stroke="#000" stroke-width="0.25" text-anchor="start" >Ca<tspan font-size="6.6" dy="2.6">v</tspan><tspan dy="-2.6">α</tspan><tspan font-size="6.6" dy="2.6">1c</tspan><tspan dy="-2.6"> </tspan>-T1787M (n=8)</text>
<text x="443.4" y="69.8" font-size="10.2" font-weight="bold" stroke="#000" stroke-width="0.25" text-anchor="start" >Test potential (mV)</text>
<line x1="445.0" y1="74.1" x2="681.0" y2="74.1" stroke="#808080" stroke-width="1.4" />
<line x1="575.4" y1="55.3" x2="575.4" y2="204.0" stroke="#6a6a6a" stroke-width="1.3" />
<line x1="445.2" y1="72.8" x2="445.2" y2="75.5" stroke="#808080" stroke-width="0.8" />
<text x="445.2" y="82.3" font-size="5.8" font-weight="bold" text-anchor="middle" >-100</text>
<line x1="471.4" y1="72.8" x2="471.4" y2="75.5" stroke="#808080" stroke-width="0.8" />
<text x="471.4" y="82.3" font-size="5.8" font-weight="bold" text-anchor="middle" >-80</text>
<line x1="497.5" y1="72.8" x2="497.5" y2="75.5" stroke="#808080" stroke-width="0.8" />
<text x="497.5" y="82.3" font-size="5.8" font-weight="bold" text-anchor="middle" >-60</text>
<line x1="523.6" y1="72.8" x2="523.6" y2="75.5" stroke="#808080" stroke-width="0.8" />
<text x="523.6" y="82.3" font-size="5.8" font-weight="bold" text-anchor="middle" >-40</text>
<line x1="549.8" y1="72.8" x2="549.8" y2="75.5" stroke="#808080" stroke-width="0.8" />
<text x="549.8" y="82.3" font-size="5.8" font-weight="bold" text-anchor="middle" >-20</text>
<line x1="575.9" y1="72.8" x2="575.9" y2="75.5" stroke="#808080" stroke-width="0.8" />
<text x="575.9" y="82.3" font-size="5.8" font-weight="bold" text-anchor="middle" >0</text>
<line x1="602.0" y1="72.8" x2="602.0" y2="75.5" stroke="#808080" stroke-width="0.8" />
<text x="602.0" y="82.3" font-size="5.8" font-weight="bold" text-anchor="middle" >20</text>
<line x1="628.2" y1="72.8" x2="628.2" y2="75.5" stroke="#808080" stroke-width="0.8" />
<text x="628.2" y="82.3" font-size="5.8" font-weight="bold" text-anchor="middle" >40</text>
<line x1="654.3" y1="72.8" x2="654.3" y2="75.5" stroke="#808080" stroke-width="0.8" />
<text x="654.3" y="82.3" font-size="5.8" font-weight="bold" text-anchor="middle" >60</text>
<line x1="680.4" y1="72.8" x2="680.4" y2="75.5" stroke="#808080" stroke-width="0.8" />
<text x="680.4" y="82.3" font-size="5.8" font-weight="bold" text-anchor="middle" >80</text>
<line x1="573.6" y1="55.4" x2="575.4" y2="55.4" stroke="#6a6a6a" stroke-width="0.9" />
<text x="571.2" y="57.4" font-size="5.8" font-weight="bold" text-anchor="end" >20</text>
<line x1="573.6" y1="74.0" x2="575.4" y2="74.0" stroke="#6a6a6a" stroke-width="0.9" />
<text x="571.2" y="76.0" font-size="5.8" font-weight="bold" text-anchor="end" >0</text>
<line x1="573.6" y1="92.6" x2="575.4" y2="92.6" stroke="#6a6a6a" stroke-width="0.9" />
<text x="571.2" y="94.6" font-size="5.8" font-weight="bold" text-anchor="end" >-20</text>
<line x1="573.6" y1="111.2" x2="575.4" y2="111.2" stroke="#6a6a6a" stroke-width="0.9" />
<text x="571.2" y="113.2" font-size="5.8" font-weight="bold" text-anchor="end" >-40</text>
<line x1="573.6" y1="129.8" x2="575.4" y2="129.8" stroke="#6a6a6a" stroke-width="0.9" />
<text x="571.2" y="131.8" font-size="5.8" font-weight="bold" text-anchor="end" >-60</text>
<line x1="573.6" y1="148.4" x2="575.4" y2="148.4" stroke="#6a6a6a" stroke-width="0.9" />
<text x="571.2" y="150.4" font-size="5.8" font-weight="bold" text-anchor="end" >-80</text>
<line x1="573.6" y1="167.0" x2="575.4" y2="167.0" stroke="#6a6a6a" stroke-width="0.9" />
<text x="571.2" y="169.0" font-size="5.8" font-weight="bold" text-anchor="end" >-100</text>
<line x1="573.6" y1="185.6" x2="575.4" y2="185.6" stroke="#6a6a6a" stroke-width="0.9" />
<text x="571.2" y="187.6" font-size="5.8" font-weight="bold" text-anchor="end" >-120</text>
<line x1="573.6" y1="204.2" x2="575.4" y2="204.2" stroke="#6a6a6a" stroke-width="0.9" />
<text x="571.2" y="206.2" font-size="5.8" font-weight="bold" text-anchor="end" >-140</text>
<line x1="575.4" y1="64.7" x2="576.8" y2="64.7" stroke="#6a6a6a" stroke-width="0.6" />
<line x1="575.4" y1="83.3" x2="576.8" y2="83.3" stroke="#6a6a6a" stroke-width="0.6" />
<line x1="575.4" y1="101.9" x2="576.8" y2="101.9" stroke="#6a6a6a" stroke-width="0.6" />
<line x1="575.4" y1="120.5" x2="576.8" y2="120.5" stroke="#6a6a6a" stroke-width="0.6" />
<line x1="575.4" y1="139.1" x2="576.8" y2="139.1" stroke="#6a6a6a" stroke-width="0.6" />
<line x1="575.4" y1="157.7" x2="576.8" y2="157.7" stroke="#6a6a6a" stroke-width="0.6" />
<line x1="575.4" y1="176.3" x2="576.8" y2="176.3" stroke="#6a6a6a" stroke-width="0.6" />
<line x1="575.4" y1="194.9" x2="576.8" y2="194.9" stroke="#6a6a6a" stroke-width="0.6" />
<path d="M510.6,74.9 L511.3,74.9 L512.4,74.9 L513.6,75.0 L514.9,75.0 L516.4,75.0 L517.9,75.0 L519.4,75.0 L521.0,75.0 L522.5,75.0 L523.9,75.1 L525.1,75.1 L526.2,75.1 L527.2,75.2 L528.1,75.2 L529.0,75.2 L529.8,75.3 L530.5,75.3 L531.2,75.4 L531.9,75.4 L532.5,75.5 L533.1,75.6 L533.6,75.6 L534.2,75.7 L534.7,75.9 L535.2,76.0 L535.7,76.1 L536.0,76.1 L536.4,76.2 L536.7,76.3 L537.0,76.4 L537.3,76.5 L537.6,76.7 L537.9,76.9 L538.2,77.2 L538.6,77.6 L539.1,78.0 L539.5,78.5 L540.1,79.1 L540.7,79.7 L541.3,80.3 L541.9,81.1 L542.5,81.8 L543.2,82.6 L543.8,83.5 L544.4,84.3 L545.0,85.2 L545.6,86.2 L546.1,87.1 L546.6,88.1 L547.1,89.1 L547.5,90.1 L547.9,91.2 L548.4,92.3 L548.8,93.4 L549.2,94.6 L549.6,95.8 L549.9,97.1 L550.3,98.4 L550.7,99.8 L551.1,101.2 L551.4,102.6 L551.8,104.2 L552.2,105.8 L552.5,107.5 L552.9,109.3 L553.2,111.0 L553.6,112.8 L553.9,114.6 L554.2,116.4 L554.6,118.1 L554.9,119.8 L555.3,121.4 L555.6,123.0 L555.9,124.6 L556.2,126.3 L556.6,127.9 L556.9,129.4 L557.2,131.0 L557.5,132.5 L557.9,134.0 L558.2,135.5 L558.5,136.9 L558.8,138.3 L559.2,139.6 L559.5,140.8 L559.8,142.0 L560.2,143.1 L560.5,144.1 L560.9,145.1 L561.2,146.1 L561.5,147.1 L561.9,148.0 L562.2,148.9 L562.5,149.8 L562.9,150.7 L563.2,151.7 L563.6,152.6 L563.9,153.5 L564.2,154.4 L564.5,155.4 L564.9,156.3 L565.2,157.2 L565.5,158.0 L565.9,158.9 L566.2,159.7 L566.5,160.4 L566.9,161.1 L567.3,161.8 L567.7,162.4 L568.1,163.0 L568.5,163.5 L568.9,164.0 L569.3,164.5 L569.7,164.9 L570.2,165.3 L570.6,165.6 L571.0,166.0 L571.4,166.3 L571.8,166.6 L572.2,166.8 L572.6,167.0 L573.0,167.2 L573.4,167.4 L573.7,167.5 L574.1,167.5 L574.5,167.6 L574.8,167.6 L575.2,167.6 L575.5,167.6 L575.9,167.6 L576.2,167.6 L576.6,167.6 L576.9,167.5 L577.2,167.5 L577.4,167.6 L577.7,167.6 L578.0,167.6 L578.2,167.5 L578.5,167.5 L578.8,167.3 L579.2,167.1 L579.5,166.8 L580.0,166.4 L580.5,165.9 L581.0,165.2 L581.6,164.5 L582.3,163.6 L582.9,162.6 L583.6,161.6 L584.4,160.5 L585.1,159.4 L585.9,158.2 L586.7,157.0 L587.6,155.8 L588.5,154.6 L589.4,153.4 L590.3,152.3 L591.3,151.1 L592.3,149.9 L593.3,148.8 L594.4,147.6 L595.5,146.3 L596.6,145.1 L597.7,143.8 L598.9,142.4 L600.0,141.1 L601.1,139.6 L602.2,138.2 L603.3,136.6 L604.4,134.9 L605.5,133.1 L606.7,131.2 L607.9,129.3 L609.0,127.4 L610.2,125.5 L611.3,123.6 L612.3,121.8 L613.3,120.2 L614.2,118.6 L615.1,117.2 L615.9,116.1 L616.5,115.0 L617.2,114.1 L617.7,113.3 L618.2,112.6 L618.7,111.9 L619.2,111.2 L619.6,110.6 L620.1,109.9 L620.6,109.2 L621.1,108.4 L621.6,107.5 L622.2,106.5 L622.9,105.4 L623.5,104.3 L624.2,103.2 L624.9,102.0 L625.6,100.8 L626.2,99.7 L626.9,98.5 L627.6,97.4 L628.2,96.3 L628.8,95.2 L629.3,94.3 L629.9,93.4 L630.4,92.5 L630.8,91.7 L631.3,91.0 L631.7,90.2 L632.1,89.5 L632.5,88.8 L632.9,88.1 L633.4,87.4 L633.8,86.7 L634.2,85.9 L634.7,85.2 L635.2,84.4 L635.7,83.5 L636.2,82.7 L636.8,81.8 L637.3,80.9 L637.9,80.1 L638.4,79.2 L639.0,78.4 L639.5,77.6 L640.0,76.8 L640.4,76.1 L640.8,75.5 L641.2,74.9 L641.6,74.3 L642.0,73.8 L642.4,73.2 L642.7,72.7 L643.1,72.3 L643.4,71.9 L643.6,71.5 L643.9,71.1 L644.1,70.8 L644.3,70.5 L644.5,70.3" stroke="#000" stroke-width="1.4" fill="none" stroke-dasharray="2.5 1.9"/>
<path d="M510.6,74.9 L511.2,75.0 L512.0,75.0 L512.9,75.1 L514.0,75.1 L515.1,75.2 L516.3,75.2 L517.5,75.3 L518.8,75.4 L520.1,75.5 L521.3,75.6 L522.5,75.7 L523.6,75.9 L524.7,76.0 L525.8,76.1 L526.9,76.3 L528.0,76.4 L529.1,76.5 L530.2,76.7 L531.3,76.9 L532.3,77.1 L533.4,77.3 L534.5,77.6 L535.6,77.9 L536.7,78.2 L537.8,78.5 L538.9,78.9 L540.0,79.4 L541.1,79.8 L542.1,80.3 L543.2,80.8 L544.3,81.3 L545.4,81.8 L546.5,82.4 L547.6,83.0 L548.7,83.6 L549.8,84.2 L550.9,84.9 L551.9,85.6 L553.0,86.4 L554.1,87.2 L555.2,88.0 L556.3,88.9 L557.4,89.7 L558.5,90.5 L559.6,91.3 L560.7,92.1 L561.7,92.8 L562.8,93.5 L563.9,94.2 L565.1,94.8 L566.3,95.5 L567.4,96.1 L568.6,96.7 L569.8,97.3 L570.9,97.9 L572.0,98.4 L573.1,98.9 L574.1,99.3 L575.0,99.7 L575.9,100.0 L576.7,100.3 L577.4,100.5 L578.0,100.7 L578.6,100.8 L579.1,100.9 L579.6,101.0 L580.0,101.0 L580.5,101.0 L581.0,100.9 L581.4,100.9 L581.9,100.8 L582.4,100.8 L583.0,100.7 L583.4,100.6 L583.9,100.5 L584.4,100.4 L584.8,100.3 L585.3,100.1 L585.8,100.0 L586.3,99.8 L586.9,99.5 L587.5,99.3 L588.2,99.0 L589.0,98.6 L589.8,98.3 L590.8,97.9 L591.8,97.4 L592.8,97.0 L593.9,96.5 L595.1,96.0 L596.3,95.4 L597.4,94.9 L598.6,94.3 L599.8,93.7 L600.9,93.2 L602.0,92.6 L603.1,92.0 L604.2,91.4 L605.3,90.8 L606.4,90.2 L607.5,89.6 L608.6,89.0 L609.7,88.3 L610.7,87.7 L611.8,87.1 L612.9,86.4 L614.0,85.8 L615.1,85.2 L616.2,84.5 L617.3,83.9 L618.5,83.2 L619.6,82.6 L620.7,81.9 L621.9,81.3 L623.0,80.7 L624.1,80.0 L625.2,79.4 L626.2,78.8 L627.2,78.3 L628.2,77.7 L629.1,77.2 L629.9,76.7 L630.8,76.3 L631.6,75.8 L632.4,75.4 L633.1,75.0 L633.9,74.5 L634.6,74.1 L635.3,73.8 L636.0,73.4 L636.7,73.0 L637.3,72.6 L638.0,72.2 L638.6,71.8 L639.3,71.4 L639.9,71.0 L640.6,70.6 L641.2,70.2 L641.7,69.9 L642.3,69.5 L642.7,69.2 L643.2,68.9 L643.5,68.7 L643.8,68.5" stroke="#000" stroke-width="1.4" fill="none" stroke-dasharray="2.5 1.9"/>
<line x1="549.8" y1="96.8" x2="549.8" y2="117.9" stroke="#808080" stroke-width="1.1" />
<line x1="548.5" y1="96.8" x2="551.1" y2="96.8" stroke="#808080" stroke-width="1.1" />
<line x1="548.5" y1="117.9" x2="551.1" y2="117.9" stroke="#808080" stroke-width="1.1" />
<line x1="562.8" y1="128.4" x2="562.8" y2="169.7" stroke="#808080" stroke-width="1.1" />
<line x1="561.5" y1="128.4" x2="564.1" y2="128.4" stroke="#808080" stroke-width="1.1" />
<line x1="561.5" y1="169.7" x2="564.1" y2="169.7" stroke="#808080" stroke-width="1.1" />
<line x1="575.9" y1="148.0" x2="575.9" y2="203.0" stroke="#808080" stroke-width="1.1" />
<line x1="574.6" y1="148.0" x2="577.2" y2="148.0" stroke="#808080" stroke-width="1.1" />
<line x1="574.6" y1="203.0" x2="577.2" y2="203.0" stroke="#808080" stroke-width="1.1" />
<line x1="589.0" y1="136.3" x2="589.0" y2="175.4" stroke="#808080" stroke-width="1.1" />
<line x1="587.7" y1="136.3" x2="590.3" y2="136.3" stroke="#808080" stroke-width="1.1" />
<line x1="587.7" y1="175.4" x2="590.3" y2="175.4" stroke="#808080" stroke-width="1.1" />
<line x1="602.0" y1="119.3" x2="602.0" y2="147.3" stroke="#808080" stroke-width="1.1" />
<line x1="600.7" y1="119.3" x2="603.3" y2="119.3" stroke="#808080" stroke-width="1.1" />
<line x1="600.7" y1="147.3" x2="603.3" y2="147.3" stroke="#808080" stroke-width="1.1" />
<line x1="615.1" y1="100.7" x2="615.1" y2="116.1" stroke="#808080" stroke-width="1.1" />
<line x1="613.8" y1="100.7" x2="616.4" y2="100.7" stroke="#808080" stroke-width="1.1" />
<line x1="613.8" y1="116.1" x2="616.4" y2="116.1" stroke="#808080" stroke-width="1.1" />
<line x1="628.2" y1="83.0" x2="628.2" y2="95.0" stroke="#808080" stroke-width="1.1" />
<line x1="626.9" y1="83.0" x2="629.5" y2="83.0" stroke="#808080" stroke-width="1.1" />
<line x1="626.9" y1="95.0" x2="629.5" y2="95.0" stroke="#808080" stroke-width="1.1" />
<line x1="536.7" y1="82.0" x2="536.7" y2="87.5" stroke="#808080" stroke-width="1.1" />
<line x1="535.4" y1="82.0" x2="538.0" y2="82.0" stroke="#808080" stroke-width="1.1" />
<line x1="535.4" y1="87.5" x2="538.0" y2="87.5" stroke="#808080" stroke-width="1.1" />
<line x1="562.8" y1="82.8" x2="562.8" y2="106.6" stroke="#808080" stroke-width="1.1" />
<line x1="561.5" y1="82.8" x2="564.1" y2="82.8" stroke="#808080" stroke-width="1.1" />
<line x1="561.5" y1="106.6" x2="564.1" y2="106.6" stroke="#808080" stroke-width="1.1" />
<line x1="575.9" y1="88.0" x2="575.9" y2="112.0" stroke="#808080" stroke-width="1.1" />
<line x1="574.6" y1="88.0" x2="577.2" y2="88.0" stroke="#808080" stroke-width="1.1" />
<line x1="574.6" y1="112.0" x2="577.2" y2="112.0" stroke="#808080" stroke-width="1.1" />
<line x1="589.0" y1="84.5" x2="589.0" y2="110.8" stroke="#808080" stroke-width="1.1" />
<line x1="587.7" y1="84.5" x2="590.3" y2="84.5" stroke="#808080" stroke-width="1.1" />
<line x1="587.7" y1="110.8" x2="590.3" y2="110.8" stroke="#808080" stroke-width="1.1" />
<line x1="602.0" y1="79.0" x2="602.0" y2="102.3" stroke="#808080" stroke-width="1.1" />
<line x1="600.7" y1="79.0" x2="603.3" y2="79.0" stroke="#808080" stroke-width="1.1" />
<line x1="600.7" y1="102.3" x2="603.3" y2="102.3" stroke="#808080" stroke-width="1.1" />
<line x1="615.1" y1="76.8" x2="615.1" y2="90.8" stroke="#808080" stroke-width="1.1" />
<line x1="613.8" y1="76.8" x2="616.4" y2="76.8" stroke="#808080" stroke-width="1.1" />
<line x1="613.8" y1="90.8" x2="616.4" y2="90.8" stroke="#808080" stroke-width="1.1" />
<line x1="549.8" y1="79.0" x2="549.8" y2="86.0" stroke="#808080" stroke-width="1.1" />
<line x1="548.5" y1="79.0" x2="551.1" y2="79.0" stroke="#808080" stroke-width="1.1" />
<line x1="548.5" y1="86.0" x2="551.1" y2="86.0" stroke="#808080" stroke-width="1.1" />
<circle cx="628.2" cy="80.0" r="1.9" fill="#fff" stroke="#000" stroke-width="0.8"/>
<circle cx="536.7" cy="84.2" r="1.9" fill="#fff" stroke="#000" stroke-width="0.8"/>
<circle cx="549.8" cy="107.9" r="1.9" fill="#fff" stroke="#000" stroke-width="0.8"/>
<circle cx="562.8" cy="148.9" r="1.9" fill="#fff" stroke="#000" stroke-width="0.8"/>
<circle cx="575.9" cy="166.5" r="1.9" fill="#fff" stroke="#000" stroke-width="0.8"/>
<circle cx="589.0" cy="156.1" r="1.9" fill="#fff" stroke="#000" stroke-width="0.8"/>
<circle cx="602.0" cy="133.5" r="1.9" fill="#fff" stroke="#000" stroke-width="0.8"/>
<circle cx="615.1" cy="109.2" r="1.9" fill="#fff" stroke="#000" stroke-width="0.8"/>
<circle cx="628.2" cy="90.6" r="1.9" fill="#fff" stroke="#000" stroke-width="0.8"/>
<circle cx="641.2" cy="77.1" r="1.9" fill="#fff" stroke="#000" stroke-width="0.8"/>
<circle cx="471.4" cy="78.7" r="2.0" fill="#000"/>
<circle cx="484.4" cy="78.2" r="2.0" fill="#000"/>
<circle cx="497.5" cy="78.7" r="2.0" fill="#000"/>
<circle cx="510.6" cy="77.3" r="2.0" fill="#000"/>
<circle cx="523.6" cy="77.0" r="2.0" fill="#000"/>
<circle cx="536.7" cy="78.1" r="2.0" fill="#000"/>
<circle cx="549.8" cy="82.6" r="2.0" fill="#000"/>
<circle cx="562.8" cy="93.5" r="2.0" fill="#000"/>
<circle cx="575.9" cy="100.2" r="2.0" fill="#000"/>
<circle cx="589.0" cy="97.4" r="2.0" fill="#000"/>
<circle cx="602.0" cy="91.9" r="2.0" fill="#000"/>
<circle cx="615.1" cy="84.0" r="2.0" fill="#000"/>
<circle cx="628.2" cy="77.1" r="2.0" fill="#000"/>
<circle cx="641.2" cy="71.3" r="2.0" fill="#000"/>
<path d="M549.77,87.40 L549.77,91.40 M548.03,88.40 L551.50,90.40 M551.50,88.40 L548.03,90.40 " stroke="#000" stroke-width="1.0" fill="none" />
<path d="M562.83,105.60 L562.83,109.60 M561.10,106.60 L564.57,108.60 M564.57,106.60 L561.10,108.60 " stroke="#000" stroke-width="1.0" fill="none" />
<path d="M575.90,116.20 L575.90,120.20 M574.17,117.20 L577.63,119.20 M577.63,117.20 L574.17,119.20 " stroke="#000" stroke-width="1.0" fill="none" />
<path d="M588.97,112.20 L588.97,116.20 M587.23,113.20 L590.70,115.20 M590.70,113.20 L587.23,115.20 " stroke="#000" stroke-width="1.0" fill="none" />
<path d="M602.03,102.20 L602.03,106.20 M600.30,103.20 L603.77,105.20 M603.77,103.20 L600.30,105.20 " stroke="#000" stroke-width="1.0" fill="none" />
<path d="M615.10,91.30 L615.10,95.30 M613.37,92.30 L616.83,94.30 M616.83,92.30 L613.37,94.30 " stroke="#000" stroke-width="1.0" fill="none" />
<path d="M628.17,82.30 L628.17,86.30 M626.44,83.30 L629.90,85.30 M629.90,83.30 L626.44,85.30 " stroke="#000" stroke-width="1.0" fill="none" />
<text x="551.5" y="183.5" font-size="10" font-weight="bold" stroke="#000" stroke-width="0.25" text-anchor="middle" transform="rotate(-90 551.5 183.5)">I<tspan font-size="7" dy="2">Ba</tspan><tspan dy="-2"> (%)</tspan></text>
<line x1="629.2" y1="186.5" x2="668.4" y2="186.5" stroke="#bdbdbd" stroke-width="1.0" />
<line x1="629.2" y1="187.5" x2="668.4" y2="187.5" stroke="#222" stroke-width="1.0" />
<line x1="629.2" y1="188.5" x2="668.4" y2="188.5" stroke="#bdbdbd" stroke-width="1.0" />
<line x1="629.2" y1="189.5" x2="668.4" y2="189.5" stroke="#222" stroke-width="1.0" />
<line x1="629.2" y1="190.5" x2="668.4" y2="190.5" stroke="#bdbdbd" stroke-width="1.0" />
<line x1="629.2" y1="191.5" x2="668.4" y2="191.5" stroke="#222" stroke-width="1.0" />
<line x1="629.2" y1="192.5" x2="668.4" y2="192.5" stroke="#bdbdbd" stroke-width="1.0" />
<line x1="629.2" y1="193.5" x2="668.4" y2="193.5" stroke="#222" stroke-width="1.0" />
<line x1="629.2" y1="194.5" x2="668.4" y2="194.5" stroke="#bdbdbd" stroke-width="1.0" />
<line x1="629.2" y1="195.5" x2="668.4" y2="195.5" stroke="#222" stroke-width="1.0" />
<line x1="629.2" y1="196.5" x2="668.4" y2="196.5" stroke="#bdbdbd" stroke-width="1.0" />
<line x1="629.2" y1="197.5" x2="668.4" y2="197.5" stroke="#222" stroke-width="1.0" />
<line x1="629.2" y1="198.5" x2="668.4" y2="198.5" stroke="#bdbdbd" stroke-width="1.0" />
<path d="M619.1,201.5 H629.2 V185.5 H668.4 V201.5 H678.1" stroke="#000" stroke-width="1.1" fill="none" />
<text x="647.6" y="183.2" font-size="10" font-weight="bold" stroke="#000" stroke-width="0.25" text-anchor="middle" >200 ms</text>
<text x="617.9" y="204.2" font-size="10" font-weight="bold" stroke="#000" stroke-width="0.25" text-anchor="end" >-80 mV</text>
<text x="1.0" y="247.6" font-size="16.8"  text-anchor="start" >C</text>
<circle cx="48.6" cy="261.9" r="2.8" fill="#fff" stroke="#000" stroke-width="1.5"/>
<text x="56.5" y="265.0" font-size="10.35" font-weight="bold" stroke="#000" stroke-width="0.25" text-anchor="start" >SSI Ca<tspan font-size="6.6" dy="2.6">v</tspan><tspan dy="-2.6">α</tspan><tspan font-size="6.6" dy="2.6">1c</tspan><tspan dy="-2.6"> </tspan>WT (n=6)</text>
<circle cx="48.4" cy="277.9" r="3.6" fill="#000"/>
<text x="56.5" y="282.2" font-size="10.35" font-weight="bold" stroke="#000" stroke-width="0.25" text-anchor="start" >SSI Ca<tspan font-size="6.6" dy="2.6">v</tspan><tspan dy="-2.6">α</tspan><tspan font-size="6.6" dy="2.6">1c</tspan><tspan dy="-2.6"> </tspan>-T1787M (n=10)</text>
<path d="M194.6,265.6 L197.6,260.2 L200.6,265.6 Z" stroke="#000" stroke-width="1.3" fill="#fff" />
<text x="206.5" y="265.6" font-size="10.35" font-weight="bold" stroke="#000" stroke-width="0.25" text-anchor="start" >Activation Ca<tspan font-size="6.6" dy="2.6">v</tspan><tspan dy="-2.6">α</tspan><tspan font-size="6.6" dy="2.6">1c</tspan><tspan dy="-2.6"> </tspan>WT (n=35)</text>
<path d="M194.4,281.1 L197.6,275.3 L200.8,281.1 Z" stroke="#000" stroke-width="0.5" fill="#000" />
<text x="206.5" y="281.8" font-size="10.35" font-weight="bold" stroke="#000" stroke-width="0.25" text-anchor="start" >Activation Ca<tspan font-size="6.6" dy="2.6">v</tspan><tspan dy="-2.6">α</tspan><tspan font-size="6.6" dy="2.6">1c</tspan><tspan dy="-2.6"> </tspan>-T1787M (n=15)</text>
<line x1="56.3" y1="293.4" x2="56.3" y2="444.2" stroke="#000" stroke-width="1.2" />
<line x1="55.7" y1="443.7" x2="285.6" y2="443.7" stroke="#000" stroke-width="1.2" />
<line x1="56.9" y1="443.7" x2="56.9" y2="445.5" stroke="#000" stroke-width="0.8" />
<text x="56.9" y="452.8" font-size="5.9" font-weight="bold" text-anchor="middle" >-120</text>
<line x1="85.5" y1="443.7" x2="85.5" y2="445.5" stroke="#000" stroke-width="0.8" />
<text x="85.5" y="452.8" font-size="5.9" font-weight="bold" text-anchor="middle" >-100</text>
<line x1="114.1" y1="443.7" x2="114.1" y2="445.5" stroke="#000" stroke-width="0.8" />
<text x="114.1" y="452.8" font-size="5.9" font-weight="bold" text-anchor="middle" >-80</text>
<line x1="142.7" y1="443.7" x2="142.7" y2="445.5" stroke="#000" stroke-width="0.8" />
<text x="142.7" y="452.8" font-size="5.9" font-weight="bold" text-anchor="middle" >-60</text>
<line x1="171.3" y1="443.7" x2="171.3" y2="445.5" stroke="#000" stroke-width="0.8" />
<text x="171.3" y="452.8" font-size="5.9" font-weight="bold" text-anchor="middle" >-40</text>
<line x1="199.9" y1="443.7" x2="199.9" y2="445.5" stroke="#000" stroke-width="0.8" />
<text x="199.9" y="452.8" font-size="5.9" font-weight="bold" text-anchor="middle" >-20</text>
<line x1="228.5" y1="443.7" x2="228.5" y2="445.5" stroke="#000" stroke-width="0.8" />
<text x="228.5" y="452.8" font-size="5.9" font-weight="bold" text-anchor="middle" >0</text>
<line x1="257.1" y1="443.7" x2="257.1" y2="445.5" stroke="#000" stroke-width="0.8" />
<text x="257.1" y="452.8" font-size="5.9" font-weight="bold" text-anchor="middle" >20</text>
<line x1="285.7" y1="443.7" x2="285.7" y2="445.5" stroke="#000" stroke-width="0.8" />
<text x="285.7" y="452.8" font-size="5.9" font-weight="bold" text-anchor="middle" >40</text>
<line x1="54.3" y1="443.7" x2="56.3" y2="443.7" stroke="#000" stroke-width="0.8" />
<text x="51.6" y="445.8" font-size="5.9" font-weight="bold" text-anchor="end" >0,0</text>
<line x1="54.3" y1="418.6" x2="56.3" y2="418.6" stroke="#000" stroke-width="0.8" />
<text x="51.6" y="420.8" font-size="5.9" font-weight="bold" text-anchor="end" >0,2</text>
<line x1="54.3" y1="393.6" x2="56.3" y2="393.6" stroke="#000" stroke-width="0.8" />
<text x="51.6" y="395.7" font-size="5.9" font-weight="bold" text-anchor="end" >0,4</text>
<line x1="54.3" y1="368.6" x2="56.3" y2="368.6" stroke="#000" stroke-width="0.8" />
<text x="51.6" y="370.7" font-size="5.9" font-weight="bold" text-anchor="end" >0,6</text>
<line x1="54.3" y1="343.5" x2="56.3" y2="343.5" stroke="#000" stroke-width="0.8" />
<text x="51.6" y="345.6" font-size="5.9" font-weight="bold" text-anchor="end" >0,8</text>
<line x1="54.3" y1="318.4" x2="56.3" y2="318.4" stroke="#000" stroke-width="0.8" />
<text x="51.6" y="320.6" font-size="5.9" font-weight="bold" text-anchor="end" >1,0</text>
<line x1="54.3" y1="293.4" x2="56.3" y2="293.4" stroke="#000" stroke-width="0.8" />
<text x="51.6" y="295.5" font-size="5.9" font-weight="bold" text-anchor="end" >1,2</text>
<text x="29.5" y="368.0" font-size="8.9"  text-anchor="middle" stroke="#000" stroke-width="0.3" transform="rotate(-90 29.5 368)">Normalized barium</text>
<text x="39.4" y="367.5" font-size="8.9"  text-anchor="middle" stroke="#000" stroke-width="0.3" transform="rotate(-90 39.4 367.5)">peak current</text>
<text x="173.5" y="467.4" font-size="10.2" font-weight="bold" stroke="#000" stroke-width="0.25" text-anchor="middle" >Test potential (mV)</text>
<path d="M89.8,320.7 L90.3,320.7 L90.8,320.8 L91.5,320.8 L92.2,320.8 L93.0,320.9 L93.9,320.9 L94.8,321.0 L95.8,321.1 L96.8,321.1 L97.8,321.2 L98.8,321.3 L99.8,321.3 L100.8,321.4 L101.9,321.5 L103.1,321.5 L104.2,321.6 L105.5,321.7 L106.7,321.8 L107.9,321.8 L109.2,321.9 L110.4,322.0 L111.7,322.2 L112.9,322.3 L114.1,322.5 L115.3,322.6 L116.5,322.8 L117.7,323.0 L118.9,323.2 L120.1,323.4 L121.2,323.7 L122.4,323.9 L123.6,324.2 L124.8,324.4 L126.0,324.7 L127.2,325.0 L128.4,325.3 L129.6,325.7 L130.8,326.0 L132.0,326.4 L133.2,326.7 L134.4,327.1 L135.6,327.5 L136.7,328.0 L137.9,328.4 L139.1,328.9 L140.3,329.3 L141.5,329.8 L142.7,330.3 L143.9,330.9 L145.2,331.5 L146.4,332.1 L147.7,332.7 L149.0,333.4 L150.3,334.0 L151.5,334.7 L152.8,335.4 L153.9,336.1 L155.0,336.7 L156.1,337.4 L157.0,338.1 L157.8,338.8 L158.6,339.5 L159.3,340.1 L159.9,340.8 L160.5,341.5 L161.0,342.2 L161.5,342.8 L162.0,343.6 L162.5,344.3 L163.0,345.0 L163.6,345.8 L164.2,346.6 L164.7,347.5 L165.3,348.3 L165.9,349.2 L166.5,350.1 L167.1,351.0 L167.7,351.9 L168.3,352.8 L168.9,353.8 L169.5,354.8 L170.1,355.8 L170.7,356.8 L171.3,357.9 L171.9,359.0 L172.5,360.1 L173.1,361.3 L173.7,362.5 L174.3,363.7 L174.9,364.9 L175.5,366.1 L176.1,367.4 L176.7,368.7 L177.3,370.0 L177.9,371.3 L178.4,372.6 L179.0,373.9 L179.6,375.2 L180.2,376.6 L180.8,378.0 L181.4,379.4 L182.0,380.8 L182.6,382.2 L183.2,383.7 L183.8,385.1 L184.4,386.5 L185.0,387.9 L185.6,389.2 L186.2,390.6 L186.8,391.9 L187.4,393.2 L188.0,394.5 L188.6,395.8 L189.2,397.1 L189.8,398.4 L190.4,399.7 L191.0,401.0 L191.6,402.3 L192.2,403.6 L192.8,404.9 L193.3,406.2 L193.9,407.5 L194.5,408.8 L195.1,410.1 L195.7,411.4 L196.3,412.7 L196.9,414.0 L197.5,415.3 L198.1,416.5 L198.7,417.7 L199.3,418.8 L199.9,419.9 L200.5,420.9 L201.1,421.9 L201.7,422.9 L202.3,423.8 L202.9,424.6 L203.5,425.5 L204.1,426.3 L204.7,427.1 L205.3,427.8 L205.9,428.5 L206.5,429.2 L207.1,429.9 L207.6,430.6 L208.2,431.2 L208.8,431.8 L209.4,432.3 L210.0,432.8 L210.6,433.3 L211.2,433.8 L211.8,434.3 L212.4,434.7 L213.0,435.1 L213.6,435.5 L214.2,435.9 L214.8,436.3 L215.4,436.7 L216.0,437.0 L216.6,437.3 L217.2,437.6 L217.8,437.9 L218.4,438.1 L219.0,438.4 L219.6,438.6 L220.2,438.9 L220.8,439.1 L221.3,439.3 L221.9,439.5 L222.5,439.7 L223.0,439.9 L223.5,440.1 L224.0,440.2 L224.5,440.4 L225.0,440.5 L225.6,440.7 L226.2,440.8 L226.9,440.9 L227.7,441.1 L228.5,441.2 L229.4,441.3 L230.5,441.5 L231.6,441.6 L232.7,441.8 L234.0,441.9 L235.2,442.0 L236.5,442.2 L237.8,442.3 L239.1,442.4 L240.3,442.5 L241.6,442.6 L242.8,442.7 L244.0,442.8 L245.3,442.8 L246.7,442.9 L248.1,443.0 L249.5,443.0 L250.8,443.0 L252.2,443.1 L253.4,443.1 L254.5,443.1 L255.5,443.2 L256.4,443.2 L257.1,443.2" stroke="#000" stroke-width="1.3" fill="none" stroke-dasharray="2.6 1.6"/>
<path d="M89.8,320.7 L90.3,320.7 L90.8,320.8 L91.5,320.8 L92.2,320.9 L93.0,321.0 L93.9,321.0 L94.8,321.1 L95.8,321.2 L96.8,321.3 L97.8,321.4 L98.8,321.5 L99.8,321.6 L100.8,321.7 L101.9,321.8 L103.1,321.9 L104.2,322.0 L105.5,322.1 L106.7,322.2 L107.9,322.4 L109.2,322.5 L110.4,322.7 L111.7,322.8 L112.9,323.0 L114.1,323.2 L115.3,323.4 L116.5,323.6 L117.7,323.9 L118.9,324.1 L120.1,324.4 L121.2,324.6 L122.4,324.9 L123.6,325.2 L124.8,325.5 L126.0,325.9 L127.2,326.2 L128.4,326.6 L129.6,327.0 L130.8,327.4 L132.0,327.8 L133.2,328.2 L134.4,328.6 L135.6,329.1 L136.7,329.5 L137.9,330.0 L139.1,330.5 L140.3,331.1 L141.5,331.6 L142.7,332.2 L143.9,332.8 L145.2,333.5 L146.4,334.2 L147.7,334.9 L149.0,335.6 L150.3,336.4 L151.5,337.2 L152.8,337.9 L153.9,338.7 L155.0,339.5 L156.1,340.2 L157.0,341.0 L157.8,341.7 L158.6,342.5 L159.3,343.2 L159.9,343.9 L160.5,344.6 L161.0,345.3 L161.5,346.1 L162.0,346.8 L162.5,347.6 L163.0,348.4 L163.6,349.2 L164.2,350.0 L164.7,350.9 L165.3,351.8 L165.9,352.7 L166.5,353.6 L167.1,354.5 L167.7,355.5 L168.3,356.4 L168.9,357.4 L169.5,358.4 L170.1,359.5 L170.7,360.6 L171.3,361.7 L171.9,362.8 L172.5,364.0 L173.1,365.2 L173.7,366.4 L174.3,367.6 L174.9,368.9 L175.5,370.2 L176.1,371.5 L176.7,372.8 L177.3,374.1 L177.9,375.4 L178.4,376.7 L179.0,378.0 L179.6,379.3 L180.2,380.7 L180.8,382.0 L181.4,383.4 L182.0,384.8 L182.6,386.2 L183.2,387.5 L183.8,388.9 L184.4,390.3 L185.0,391.6 L185.6,393.0 L186.2,394.3 L186.8,395.6 L187.4,397.0 L188.0,398.3 L188.6,399.6 L189.2,400.9 L189.8,402.2 L190.4,403.5 L191.0,404.8 L191.6,406.1 L192.2,407.4 L192.8,408.6 L193.3,409.9 L193.9,411.2 L194.5,412.4 L195.1,413.7 L195.7,415.0 L196.3,416.2 L196.9,417.5 L197.5,418.6 L198.1,419.8 L198.7,420.9 L199.3,422.0 L199.9,423.0 L200.5,424.0 L201.1,424.9 L201.7,425.8 L202.3,426.7 L202.9,427.5 L203.5,428.3 L204.1,429.0 L204.7,429.8 L205.3,430.5 L205.9,431.1 L206.5,431.8 L207.1,432.4 L207.6,433.0 L208.2,433.6 L208.8,434.2 L209.4,434.7 L210.0,435.2 L210.6,435.7 L211.2,436.1 L211.8,436.6 L212.4,437.0 L213.0,437.3 L213.6,437.7 L214.2,438.1 L214.8,438.4 L215.4,438.7 L216.0,438.9 L216.6,439.2 L217.2,439.4 L217.8,439.6 L218.4,439.8 L219.0,439.9 L219.6,440.1 L220.2,440.3 L220.8,440.4 L221.3,440.6 L221.9,440.7 L222.5,440.9 L223.0,441.0 L223.5,441.1 L224.0,441.2 L224.5,441.3 L225.0,441.4 L225.6,441.5 L226.2,441.6 L226.9,441.7 L227.7,441.8 L228.5,441.9 L229.4,442.1 L230.5,442.2 L231.6,442.3 L232.7,442.4 L234.0,442.5 L235.2,442.6 L236.5,442.7 L237.8,442.8 L239.1,442.9 L240.3,442.9 L241.6,443.0 L242.8,443.1 L244.0,443.1 L245.3,443.2 L246.7,443.2 L248.1,443.2 L249.5,443.3 L250.8,443.3 L252.2,443.3 L253.4,443.3 L254.5,443.3 L255.5,443.3 L256.4,443.3 L257.1,443.3" stroke="#000" stroke-width="1.3" fill="none" stroke-dasharray="2.6 1.6"/>
<path d="M157.0,443.5 L158.4,443.4 L159.9,443.4 L161.3,443.3 L162.7,443.3 L164.2,443.2 L165.6,443.1 L167.0,443.0 L168.4,442.9 L169.9,442.8 L171.3,442.7 L172.7,442.5 L174.2,442.3 L175.6,442.1 L177.0,441.9 L178.4,441.6 L179.9,441.2 L181.3,440.9 L182.7,440.4 L184.2,439.9 L185.6,439.3 L187.0,438.7 L188.5,437.9 L189.9,437.0 L191.3,436.0 L192.8,434.9 L194.2,433.6 L195.6,432.2 L197.0,430.6 L198.5,428.7 L199.9,426.7 L201.3,424.4 L202.8,421.9 L204.2,419.1 L205.6,416.1 L207.1,412.8 L208.5,409.3 L209.9,405.5 L211.3,401.5 L212.8,397.3 L214.2,393.0 L215.6,388.5 L217.1,384.0 L218.5,379.4 L219.9,374.9 L221.3,370.4 L222.8,366.1 L224.2,361.9 L225.6,357.9 L227.1,354.1 L228.5,350.6 L229.9,347.3 L231.4,344.3 L232.8,341.5 L234.2,339.0 L235.7,336.7 L237.1,334.7 L238.5,332.8 L239.9,331.2 L241.4,329.8 L242.8,328.5 L244.2,327.4 L245.7,326.4 L247.1,325.5 L248.5,324.7 L249.9,324.1 L251.4,323.5 L252.8,323.0 L254.2,322.6 L255.7,322.2 L257.1,321.8" stroke="#000" stroke-width="1.3" fill="none" stroke-dasharray="2.6 1.6"/>
<path d="M157.0,443.4 L158.4,443.3 L159.9,443.3 L161.3,443.2 L162.7,443.1 L164.2,443.0 L165.6,442.9 L167.0,442.8 L168.4,442.7 L169.9,442.5 L171.3,442.3 L172.7,442.1 L174.2,441.9 L175.6,441.6 L177.0,441.2 L178.4,440.9 L179.9,440.4 L181.3,439.9 L182.7,439.3 L184.2,438.7 L185.6,437.9 L187.0,437.0 L188.5,436.0 L189.9,434.9 L191.3,433.6 L192.8,432.2 L194.2,430.6 L195.6,428.7 L197.0,426.7 L198.5,424.4 L199.9,421.9 L201.3,419.1 L202.8,416.1 L204.2,412.8 L205.6,409.3 L207.1,405.5 L208.5,401.5 L209.9,397.3 L211.3,393.0 L212.8,388.5 L214.2,384.0 L215.6,379.4 L217.1,374.9 L218.5,370.4 L219.9,366.1 L221.3,361.9 L222.8,357.9 L224.2,354.1 L225.6,350.6 L227.1,347.3 L228.5,344.3 L229.9,341.5 L231.4,339.0 L232.8,336.7 L234.2,334.7 L235.7,332.8 L237.1,331.2 L238.5,329.8 L239.9,328.5 L241.4,327.4 L242.8,326.4 L244.2,325.5 L245.7,324.7 L247.1,324.1 L248.5,323.5 L249.9,323.0 L251.4,322.6 L252.8,322.2 L254.2,321.8 L255.7,321.6 L257.1,321.3" stroke="#000" stroke-width="1.3" fill="none" stroke-dasharray="2.6 1.6"/>
<circle cx="85.5" cy="319.2" r="2.1" fill="#fff" stroke="#000" stroke-width="0.8"/>
<circle cx="85.5" cy="322.7" r="2.2" fill="#000"/>
<circle cx="99.8" cy="320.3" r="2.1" fill="#fff" stroke="#000" stroke-width="0.8"/>
<circle cx="99.8" cy="319.0" r="2.2" fill="#000"/>
<circle cx="114.1" cy="323.8" r="2.1" fill="#fff" stroke="#000" stroke-width="0.8"/>
<circle cx="114.1" cy="322.2" r="2.2" fill="#000"/>
<circle cx="128.4" cy="328.5" r="2.1" fill="#fff" stroke="#000" stroke-width="0.8"/>
<circle cx="128.4" cy="325.8" r="2.2" fill="#000"/>
<line x1="142.7" y1="327.6" x2="142.7" y2="331.1" stroke="#000" stroke-width="0.8" />
<line x1="141.6" y1="327.6" x2="143.8" y2="327.6" stroke="#000" stroke-width="0.8" />
<line x1="141.6" y1="331.1" x2="143.8" y2="331.1" stroke="#000" stroke-width="0.8" />
<line x1="142.7" y1="332.9" x2="142.7" y2="336.4" stroke="#000" stroke-width="0.8" />
<line x1="141.6" y1="332.9" x2="143.8" y2="332.9" stroke="#000" stroke-width="0.8" />
<line x1="141.6" y1="336.4" x2="143.8" y2="336.4" stroke="#000" stroke-width="0.8" />
<circle cx="142.7" cy="332.9" r="2.1" fill="#fff" stroke="#000" stroke-width="0.8"/>
<circle cx="142.7" cy="331.1" r="2.2" fill="#000"/>
<line x1="157.0" y1="334.2" x2="157.0" y2="337.7" stroke="#000" stroke-width="0.8" />
<line x1="155.9" y1="334.2" x2="158.1" y2="334.2" stroke="#000" stroke-width="0.8" />
<line x1="155.9" y1="337.7" x2="158.1" y2="337.7" stroke="#000" stroke-width="0.8" />
<line x1="157.0" y1="341.2" x2="157.0" y2="344.7" stroke="#000" stroke-width="0.8" />
<line x1="155.9" y1="341.2" x2="158.1" y2="341.2" stroke="#000" stroke-width="0.8" />
<line x1="155.9" y1="344.7" x2="158.1" y2="344.7" stroke="#000" stroke-width="0.8" />
<circle cx="157.0" cy="341.2" r="2.1" fill="#fff" stroke="#000" stroke-width="0.8"/>
<circle cx="157.0" cy="337.7" r="2.2" fill="#000"/>
<line x1="164.2" y1="343.8" x2="164.2" y2="347.3" stroke="#000" stroke-width="0.8" />
<line x1="163.1" y1="343.8" x2="165.2" y2="343.8" stroke="#000" stroke-width="0.8" />
<line x1="163.1" y1="347.3" x2="165.2" y2="347.3" stroke="#000" stroke-width="0.8" />
<line x1="164.2" y1="351.0" x2="164.2" y2="356.5" stroke="#000" stroke-width="0.8" />
<line x1="163.1" y1="351.0" x2="165.2" y2="351.0" stroke="#000" stroke-width="0.8" />
<line x1="163.1" y1="356.5" x2="165.2" y2="356.5" stroke="#000" stroke-width="0.8" />
<circle cx="164.2" cy="351.0" r="2.1" fill="#fff" stroke="#000" stroke-width="0.8"/>
<circle cx="164.2" cy="347.3" r="2.2" fill="#000"/>
<line x1="171.3" y1="353.7" x2="171.3" y2="359.2" stroke="#000" stroke-width="0.8" />
<line x1="170.2" y1="353.7" x2="172.4" y2="353.7" stroke="#000" stroke-width="0.8" />
<line x1="170.2" y1="359.2" x2="172.4" y2="359.2" stroke="#000" stroke-width="0.8" />
<line x1="171.3" y1="362.9" x2="171.3" y2="368.4" stroke="#000" stroke-width="0.8" />
<line x1="170.2" y1="362.9" x2="172.4" y2="362.9" stroke="#000" stroke-width="0.8" />
<line x1="170.2" y1="368.4" x2="172.4" y2="368.4" stroke="#000" stroke-width="0.8" />
<circle cx="171.3" cy="362.9" r="2.1" fill="#fff" stroke="#000" stroke-width="0.8"/>
<circle cx="171.3" cy="359.2" r="2.2" fill="#000"/>
<line x1="178.4" y1="368.8" x2="178.4" y2="373.3" stroke="#000" stroke-width="0.8" />
<line x1="177.3" y1="368.8" x2="179.5" y2="368.8" stroke="#000" stroke-width="0.8" />
<line x1="177.3" y1="373.3" x2="179.5" y2="373.3" stroke="#000" stroke-width="0.8" />
<line x1="178.4" y1="377.7" x2="178.4" y2="386.2" stroke="#000" stroke-width="0.8" />
<line x1="177.3" y1="377.7" x2="179.5" y2="377.7" stroke="#000" stroke-width="0.8" />
<line x1="177.3" y1="386.2" x2="179.5" y2="386.2" stroke="#000" stroke-width="0.8" />
<circle cx="178.4" cy="377.7" r="2.1" fill="#fff" stroke="#000" stroke-width="0.8"/>
<circle cx="178.4" cy="373.3" r="2.2" fill="#000"/>
<line x1="185.6" y1="384.8" x2="185.6" y2="390.3" stroke="#000" stroke-width="0.8" />
<line x1="184.5" y1="384.8" x2="186.7" y2="384.8" stroke="#000" stroke-width="0.8" />
<line x1="184.5" y1="390.3" x2="186.7" y2="390.3" stroke="#000" stroke-width="0.8" />
<line x1="185.6" y1="395.6" x2="185.6" y2="400.6" stroke="#000" stroke-width="0.8" />
<line x1="184.5" y1="395.6" x2="186.7" y2="395.6" stroke="#000" stroke-width="0.8" />
<line x1="184.5" y1="400.6" x2="186.7" y2="400.6" stroke="#000" stroke-width="0.8" />
<circle cx="185.6" cy="395.6" r="2.1" fill="#fff" stroke="#000" stroke-width="0.8"/>
<circle cx="185.6" cy="390.3" r="2.2" fill="#000"/>
<line x1="192.8" y1="396.6" x2="192.8" y2="405.6" stroke="#000" stroke-width="0.8" />
<line x1="191.7" y1="396.6" x2="193.8" y2="396.6" stroke="#000" stroke-width="0.8" />
<line x1="191.7" y1="405.6" x2="193.8" y2="405.6" stroke="#000" stroke-width="0.8" />
<line x1="192.8" y1="414.1" x2="192.8" y2="420.1" stroke="#000" stroke-width="0.8" />
<line x1="191.7" y1="414.1" x2="193.8" y2="414.1" stroke="#000" stroke-width="0.8" />
<line x1="191.7" y1="420.1" x2="193.8" y2="420.1" stroke="#000" stroke-width="0.8" />
<circle cx="192.8" cy="414.1" r="2.1" fill="#fff" stroke="#000" stroke-width="0.8"/>
<circle cx="192.8" cy="405.6" r="2.2" fill="#000"/>
<circle cx="199.9" cy="426.2" r="2.1" fill="#fff" stroke="#000" stroke-width="0.8"/>
<circle cx="199.9" cy="423.0" r="2.2" fill="#000"/>
<circle cx="214.2" cy="439.2" r="2.1" fill="#fff" stroke="#000" stroke-width="0.8"/>
<circle cx="214.2" cy="435.7" r="2.2" fill="#000"/>
<circle cx="228.5" cy="442.2" r="2.1" fill="#fff" stroke="#000" stroke-width="0.8"/>
<circle cx="228.5" cy="441.6" r="2.2" fill="#000"/>
<circle cx="242.8" cy="442.2" r="2.1" fill="#fff" stroke="#000" stroke-width="0.8"/>
<circle cx="242.8" cy="441.8" r="2.2" fill="#000"/>
<circle cx="257.1" cy="442.2" r="2.1" fill="#fff" stroke="#000" stroke-width="0.8"/>
<circle cx="257.1" cy="441.8" r="2.2" fill="#000"/>
<path d="M111.8,445.8 L114.1,441.6 L116.4,445.8 Z" stroke="#000" stroke-width="0.8" fill="#fff" />
<path d="M111.8,444.8 L114.1,440.6 L116.4,444.8 Z" stroke="#000" stroke-width="0.5" fill="#000" />
<path d="M126.1,445.8 L128.4,441.6 L130.7,445.8 Z" stroke="#000" stroke-width="0.8" fill="#fff" />
<path d="M126.1,444.8 L128.4,440.6 L130.7,444.8 Z" stroke="#000" stroke-width="0.5" fill="#000" />
<path d="M140.4,445.8 L142.7,441.6 L145.0,445.8 Z" stroke="#000" stroke-width="0.8" fill="#fff" />
<path d="M140.4,444.8 L142.7,440.6 L145.0,444.8 Z" stroke="#000" stroke-width="0.5" fill="#000" />
<path d="M154.7,445.8 L157.0,441.6 L159.3,445.8 Z" stroke="#000" stroke-width="0.8" fill="#fff" />
<path d="M154.7,444.8 L157.0,440.6 L159.3,444.8 Z" stroke="#000" stroke-width="0.5" fill="#000" />
<path d="M169.0,445.8 L171.3,441.6 L173.6,445.8 Z" stroke="#000" stroke-width="0.8" fill="#fff" />
<path d="M169.0,444.8 L171.3,440.6 L173.6,444.8 Z" stroke="#000" stroke-width="0.5" fill="#000" />
<path d="M183.3,442.0 L185.6,437.9 L187.9,442.0 Z" stroke="#000" stroke-width="0.8" fill="#fff" />
<path d="M183.3,440.1 L185.6,436.0 L187.9,440.1 Z" stroke="#000" stroke-width="0.5" fill="#000" />
<path d="M197.6,432.0 L199.9,427.9 L202.2,432.0 Z" stroke="#000" stroke-width="0.8" fill="#fff" />
<path d="M197.6,428.5 L199.9,424.3 L202.2,428.5 Z" stroke="#000" stroke-width="0.5" fill="#000" />
<path d="M211.9,395.7 L214.2,391.5 L216.5,395.7 Z" stroke="#000" stroke-width="0.8" fill="#fff" />
<path d="M211.9,386.5 L214.2,382.4 L216.5,386.5 Z" stroke="#000" stroke-width="0.5" fill="#000" />
<path d="M226.2,351.8 L228.5,347.7 L230.8,351.8 Z" stroke="#000" stroke-width="0.8" fill="#fff" />
<path d="M226.2,344.6 L228.5,340.4 L230.8,344.6 Z" stroke="#000" stroke-width="0.5" fill="#000" />
<path d="M240.5,325.5 L242.8,321.4 L245.1,325.5 Z" stroke="#000" stroke-width="0.8" fill="#fff" />
<path d="M240.5,320.8 L242.8,316.6 L245.1,320.8 Z" stroke="#000" stroke-width="0.5" fill="#000" />
<path d="M254.8,323.0 L257.1,318.9 L259.4,323.0 Z" stroke="#000" stroke-width="0.8" fill="#fff" />
<path d="M254.8,322.0 L257.1,317.9 L259.4,322.0 Z" stroke="#000" stroke-width="0.5" fill="#000" />
<path d="M96.5,424.5 H105.2" stroke="#000" stroke-width="1.1" fill="none" />
<rect x="105.2" y="414.5" width="36.4" height="19.0" fill="#fff" stroke="#000" stroke-width="1.1"/>
<line x1="105.2" y1="418.5" x2="141.6" y2="418.5" stroke="#111" stroke-width="1.0" />
<line x1="105.2" y1="421.5" x2="141.6" y2="421.5" stroke="#111" stroke-width="1.0" />
<line x1="105.2" y1="424.5" x2="141.6" y2="424.5" stroke="#111" stroke-width="1.0" />
<line x1="105.2" y1="426.5" x2="141.6" y2="426.5" stroke="#333" stroke-width="0.9" />
<line x1="105.2" y1="428.5" x2="141.6" y2="428.5" stroke="#666" stroke-width="1.0" />
<line x1="105.2" y1="429.5" x2="141.6" y2="429.5" stroke="#888" stroke-width="1.0" />
<path d="M141.6,424.5 H143.0 V416.9 H178.5 V424.5 H187.3" stroke="#000" stroke-width="1.1" fill="none" />
<text x="95.4" y="428.1" font-size="10" font-weight="bold" stroke="#000" stroke-width="0.25" text-anchor="end" >-80 mV</text>
<text x="124.6" y="413.2" font-size="10" font-weight="bold" stroke="#000" stroke-width="0.25" text-anchor="middle" >500 ms</text>
<text x="151.0" y="414.6" font-size="10" font-weight="bold" stroke="#000" stroke-width="0.25" text-anchor="start" >0 mV</text>
<line x1="264.4" y1="410.5" x2="303.6" y2="410.5" stroke="#bdbdbd" stroke-width="1.0" />
<line x1="264.4" y1="411.5" x2="303.6" y2="411.5" stroke="#222" stroke-width="1.0" />
<line x1="264.4" y1="412.5" x2="303.6" y2="412.5" stroke="#bdbdbd" stroke-width="1.0" />
<line x1="264.4" y1="413.5" x2="303.6" y2="413.5" stroke="#222" stroke-width="1.0" />
<line x1="264.4" y1="414.5" x2="303.6" y2="414.5" stroke="#bdbdbd" stroke-width="1.0" />
<line x1="264.4" y1="415.5" x2="303.6" y2="415.5" stroke="#222" stroke-width="1.0" />
<line x1="264.4" y1="416.5" x2="303.6" y2="416.5" stroke="#bdbdbd" stroke-width="1.0" />
<line x1="264.4" y1="417.5" x2="303.6" y2="417.5" stroke="#222" stroke-width="1.0" />
<line x1="264.4" y1="418.5" x2="303.6" y2="418.5" stroke="#bdbdbd" stroke-width="1.0" />
<line x1="264.4" y1="419.5" x2="303.6" y2="419.5" stroke="#222" stroke-width="1.0" />
<line x1="264.4" y1="420.5" x2="303.6" y2="420.5" stroke="#bdbdbd" stroke-width="1.0" />
<line x1="264.4" y1="421.5" x2="303.6" y2="421.5" stroke="#222" stroke-width="1.0" />
<line x1="264.4" y1="422.5" x2="303.6" y2="422.5" stroke="#bdbdbd" stroke-width="1.0" />
<path d="M254.5,425.4 H264.4 V409.5 H303.6 V425.4 H313.1" stroke="#000" stroke-width="1.1" fill="none" />
<text x="282.8" y="407.2" font-size="10" font-weight="bold" stroke="#000" stroke-width="0.25" text-anchor="middle" >200 ms</text>
<text x="253.3" y="428.1" font-size="10" font-weight="bold" stroke="#000" stroke-width="0.25" text-anchor="end" >-80 mV</text>
<text x="392.0" y="247.8" font-size="16.8"  text-anchor="start" >D</text>
<circle cx="442.0" cy="287.0" r="2.7" fill="#fff" stroke="#000" stroke-width="1.0"/>
<text x="449.2" y="291.0" font-size="10.35" font-weight="bold" stroke="#000" stroke-width="0.25" text-anchor="start" >Ca<tspan font-size="6.6" dy="2.6">v</tspan><tspan dy="-2.6">α</tspan><tspan font-size="6.6" dy="2.6">1c</tspan><tspan dy="-2.6"> </tspan>WT (n=26)</text>
<circle cx="442.0" cy="302.7" r="3.1" fill="#000"/>
<text x="449.2" y="307.0" font-size="10.35" font-weight="bold" stroke="#000" stroke-width="0.25" text-anchor="start" >Ca<tspan font-size="6.6" dy="2.6">v</tspan><tspan dy="-2.6">α</tspan><tspan font-size="6.6" dy="2.6">1c</tspan><tspan dy="-2.6"> </tspan>-T1787M (n=14)</text>
<line x1="450.2" y1="327.0" x2="450.2" y2="445.4" stroke="#444" stroke-width="1.1" />
<line x1="449.8" y1="444.9" x2="652.5" y2="444.9" stroke="#444" stroke-width="1.1" />
<line x1="447.9" y1="444.9" x2="450.2" y2="444.9" stroke="#444" stroke-width="0.9" />
<text x="443.9" y="447.1" font-size="6.4" font-weight="bold" text-anchor="end" >0</text>
<line x1="447.9" y1="421.4" x2="450.2" y2="421.4" stroke="#444" stroke-width="0.9" />
<text x="443.9" y="423.6" font-size="6.4" font-weight="bold" text-anchor="end" >20</text>
<line x1="447.9" y1="397.9" x2="450.2" y2="397.9" stroke="#444" stroke-width="0.9" />
<text x="443.9" y="400.1" font-size="6.4" font-weight="bold" text-anchor="end" >40</text>
<line x1="447.9" y1="374.5" x2="450.2" y2="374.5" stroke="#444" stroke-width="0.9" />
<text x="443.9" y="376.7" font-size="6.4" font-weight="bold" text-anchor="end" >60</text>
<line x1="447.9" y1="351.0" x2="450.2" y2="351.0" stroke="#444" stroke-width="0.9" />
<text x="443.9" y="353.2" font-size="6.4" font-weight="bold" text-anchor="end" >80</text>
<line x1="447.9" y1="327.5" x2="450.2" y2="327.5" stroke="#444" stroke-width="0.9" />
<text x="443.9" y="329.7" font-size="6.4" font-weight="bold" text-anchor="end" >100</text>
<line x1="450.1" y1="444.9" x2="450.1" y2="446.6" stroke="#444" stroke-width="0.9" />
<text x="450.1" y="453.9" font-size="6.4" font-weight="bold" text-anchor="middle" >-20</text>
<line x1="490.5" y1="444.9" x2="490.5" y2="446.6" stroke="#444" stroke-width="0.9" />
<text x="490.5" y="453.9" font-size="6.4" font-weight="bold" text-anchor="middle" >-10</text>
<line x1="530.9" y1="444.9" x2="530.9" y2="446.6" stroke="#444" stroke-width="0.9" />
<text x="530.9" y="453.9" font-size="6.4" font-weight="bold" text-anchor="middle" >0</text>
<line x1="571.3" y1="444.9" x2="571.3" y2="446.6" stroke="#444" stroke-width="0.9" />
<text x="571.3" y="453.9" font-size="6.4" font-weight="bold" text-anchor="middle" >10</text>
<line x1="611.7" y1="444.9" x2="611.7" y2="446.6" stroke="#444" stroke-width="0.9" />
<text x="611.7" y="453.9" font-size="6.4" font-weight="bold" text-anchor="middle" >20</text>
<line x1="652.1" y1="444.9" x2="652.1" y2="446.6" stroke="#444" stroke-width="0.9" />
<text x="652.1" y="453.9" font-size="6.4" font-weight="bold" text-anchor="middle" >30</text>
<text x="434.0" y="379.2" font-size="10.3" font-weight="bold" stroke="#000" stroke-width="0.25" text-anchor="middle" transform="rotate(-90 434.0 379.2)">VDI (%)</text>
<text x="561.0" y="467.0" font-size="10.2" font-weight="bold" stroke="#000" stroke-width="0.25" text-anchor="middle" >Test potential (mV)</text>
<path d="M490.5,413.0 L492.5,412.6 L494.9,412.1 L497.8,411.5 L501.0,410.9 L504.5,410.2 L508.2,409.4 L512.0,408.7 L515.9,407.9 L519.9,407.1 L523.7,406.3 L527.4,405.5 L530.9,404.7 L534.3,404.0 L537.6,403.2 L541.0,402.5 L544.4,401.7 L547.7,400.9 L551.1,400.1 L554.5,399.3 L557.8,398.5 L561.2,397.7 L564.6,396.9 L567.9,396.1 L571.3,395.4 L574.8,394.6 L578.5,393.8 L582.3,392.9 L586.3,392.1 L590.2,391.2 L594.0,390.4 L597.7,389.6 L601.2,388.9 L604.4,388.2 L607.3,387.6 L609.7,387.1 L611.7,386.7" stroke="#666" stroke-width="0.8" fill="none" />
<path d="M490.5,401.7 L492.5,401.0 L494.9,400.1 L497.8,399.1 L501.0,397.9 L504.5,396.7 L508.2,395.3 L512.0,394.0 L515.9,392.6 L519.9,391.3 L523.7,390.1 L527.4,389.0 L530.9,388.1 L534.3,387.3 L537.6,386.5 L541.0,385.8 L544.4,385.2 L547.7,384.6 L551.1,384.1 L554.5,383.6 L557.8,383.1 L561.2,382.5 L564.6,382.0 L567.9,381.5 L571.3,380.9 L574.8,380.3 L578.5,379.7 L582.3,379.0 L586.3,378.3 L590.2,377.6 L594.0,376.9 L597.7,376.3 L601.2,375.7 L604.4,375.1 L607.3,374.6 L609.7,374.2 L611.7,373.9" stroke="#666" stroke-width="0.8" fill="none" />
<line x1="490.5" y1="397.7" x2="490.5" y2="405.7" stroke="#000" stroke-width="1.1" />
<line x1="489.3" y1="397.7" x2="491.7" y2="397.7" stroke="#000" stroke-width="1.1" />
<line x1="489.3" y1="405.7" x2="491.7" y2="405.7" stroke="#000" stroke-width="1.1" />
<line x1="530.9" y1="384.1" x2="530.9" y2="392.1" stroke="#000" stroke-width="1.1" />
<line x1="529.7" y1="384.1" x2="532.1" y2="384.1" stroke="#000" stroke-width="1.1" />
<line x1="529.7" y1="392.1" x2="532.1" y2="392.1" stroke="#000" stroke-width="1.1" />
<line x1="571.3" y1="376.9" x2="571.3" y2="384.9" stroke="#000" stroke-width="1.1" />
<line x1="570.1" y1="376.9" x2="572.5" y2="376.9" stroke="#000" stroke-width="1.1" />
<line x1="570.1" y1="384.9" x2="572.5" y2="384.9" stroke="#000" stroke-width="1.1" />
<line x1="611.7" y1="369.9" x2="611.7" y2="377.9" stroke="#000" stroke-width="1.1" />
<line x1="610.5" y1="369.9" x2="612.9" y2="369.9" stroke="#000" stroke-width="1.1" />
<line x1="610.5" y1="377.9" x2="612.9" y2="377.9" stroke="#000" stroke-width="1.1" />
<circle cx="490.5" cy="413.0" r="2.9" fill="#fff" stroke="#000" stroke-width="0.9"/>
<circle cx="530.9" cy="404.7" r="2.9" fill="#fff" stroke="#000" stroke-width="0.9"/>
<circle cx="571.3" cy="395.4" r="2.9" fill="#fff" stroke="#000" stroke-width="0.9"/>
<circle cx="611.7" cy="386.7" r="2.9" fill="#fff" stroke="#000" stroke-width="0.9"/>
<circle cx="490.5" cy="401.7" r="3.1" fill="#000"/>
<circle cx="530.9" cy="388.1" r="3.1" fill="#000"/>
<circle cx="571.3" cy="380.9" r="3.1" fill="#000"/>
<circle cx="611.7" cy="373.9" r="3.1" fill="#000"/>
<text x="490.5" y="398.0" font-size="10.8" font-weight="bold" stroke="#000" stroke-width="0.25" text-anchor="middle" >*</text>
<text x="531.3" y="384.8" font-size="10.8" font-weight="bold" stroke="#000" stroke-width="0.25" text-anchor="middle" letter-spacing="0.8">**</text>
<text x="571.7" y="376.5" font-size="10.8" font-weight="bold" stroke="#000" stroke-width="0.25" text-anchor="middle" letter-spacing="0.8">**</text>
<text x="611.7" y="367.2" font-size="10.8" font-weight="bold" stroke="#000" stroke-width="0.25" text-anchor="middle" >*</text>
<line x1="603.6" y1="421.8" x2="642.6" y2="421.8" stroke="#666" stroke-width="0.8" />
<line x1="603.6" y1="423.1" x2="642.6" y2="423.1" stroke="#333" stroke-width="0.8" />
<line x1="603.6" y1="424.3" x2="642.6" y2="424.3" stroke="#333" stroke-width="0.8" />
<line x1="603.6" y1="426.4" x2="642.6" y2="426.4" stroke="#111" stroke-width="0.9" />
<path d="M594.1,436.3 H603.6 V420.5 H642.6 V436.3 H652.8" stroke="#000" stroke-width="1.1" fill="none" />
<text x="621.9" y="418.2" font-size="10" font-weight="bold" stroke="#000" stroke-width="0.25" text-anchor="middle" >200 ms</text>
<text x="592.9" y="439.0" font-size="10" font-weight="bold" stroke="#000" stroke-width="0.25" text-anchor="end" >-80 mV</text>
</svg>
</body></html>
